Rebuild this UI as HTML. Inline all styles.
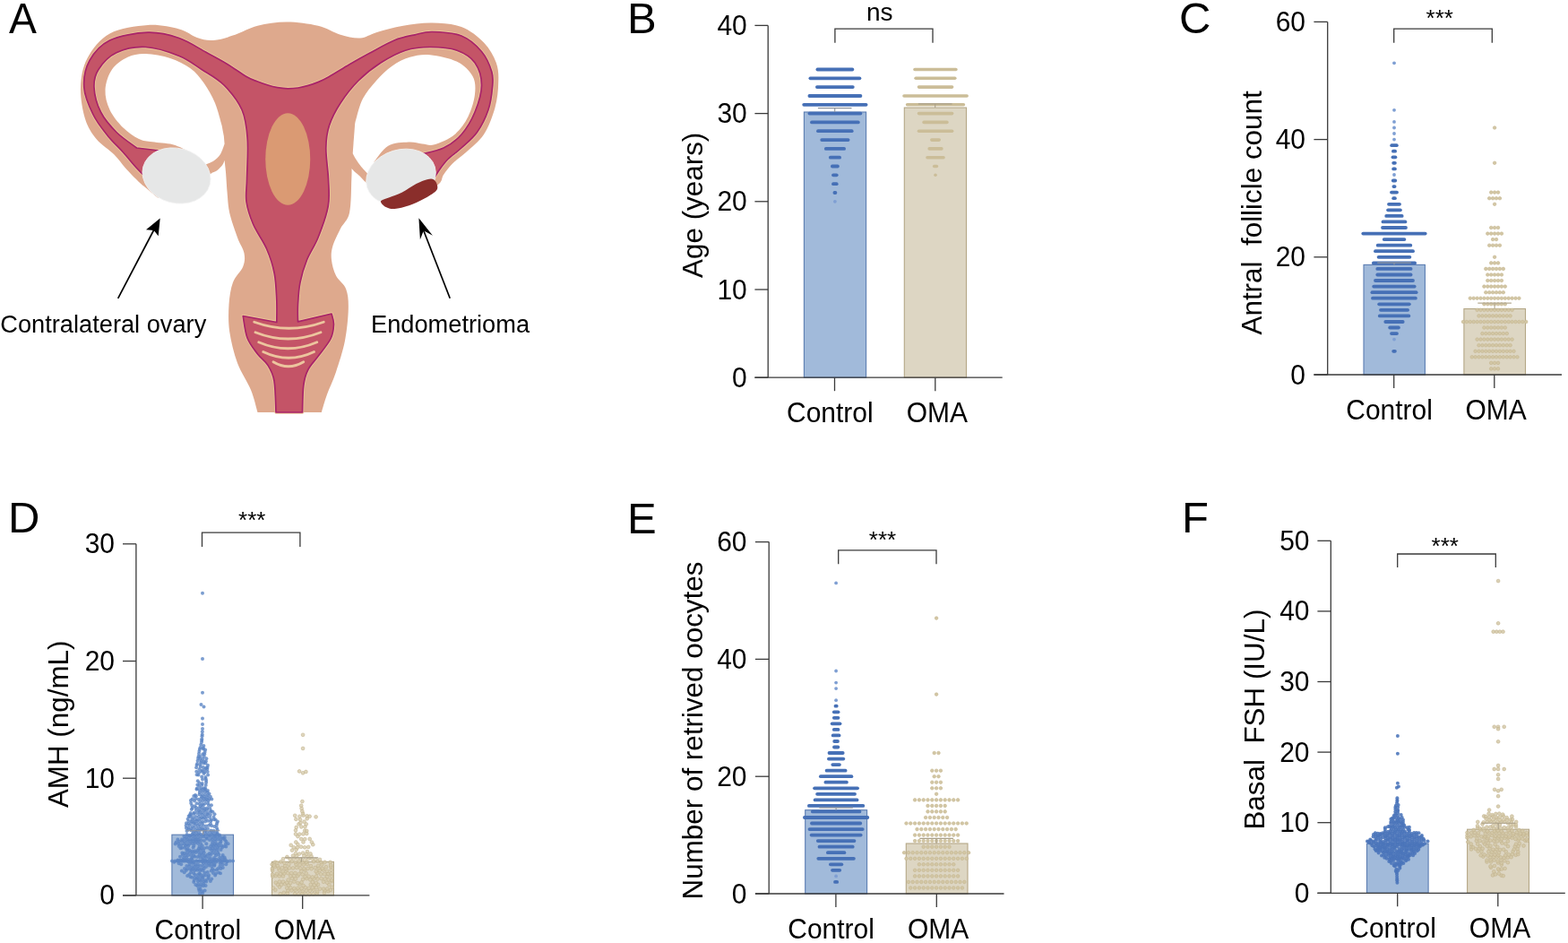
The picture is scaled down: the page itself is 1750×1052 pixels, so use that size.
<!DOCTYPE html>
<html><head><meta charset="utf-8"><title>Figure</title>
<style>html,body{margin:0;padding:0;background:#fff;}svg{display:block;}text{font-family:'Liberation Sans', Arial, sans-serif;fill:#000;}</style>
</head><body>
<svg width="1750" height="1052" viewBox="0 0 1750 1052">
<rect width="1750" height="1052" fill="#fff"/>
<path d="M176.0 220.5 C173.5 218.4 164.7 211.1 161.2 208.2 C157.7 205.3 158.5 206.4 155.0 203.0 C151.5 199.6 144.6 192.6 140.0 187.5 C135.4 182.4 132.9 177.9 127.5 172.5 C122.1 167.1 112.9 161.7 107.5 155.0 C102.1 148.3 97.9 142.1 95.0 132.5 C92.1 122.9 89.6 108.8 90.0 97.5 C90.4 86.2 92.1 75.0 97.5 65.0 C102.9 55.0 111.2 43.7 122.5 37.5 C133.8 31.3 152.1 28.8 165.0 28.0 C177.9 27.2 190.8 30.2 200.0 32.5 C209.2 34.8 213.7 39.9 220.0 42.0 C226.3 44.1 230.9 45.5 238.0 45.0 C245.1 44.5 254.2 41.5 262.5 38.8 C270.8 36.0 277.9 31.1 287.5 28.8 C297.1 26.4 308.8 24.5 320.0 24.5 C331.2 24.5 345.0 26.4 355.0 28.8 C365.0 31.1 372.2 36.5 380.0 38.8 C387.8 41.0 395.3 42.9 402.0 42.5 C408.7 42.1 412.0 38.5 420.0 36.2 C428.0 34.0 439.6 30.5 450.0 28.8 C460.4 27.0 471.7 25.3 482.5 25.5 C493.3 25.7 505.4 26.3 515.0 30.0 C524.6 33.7 533.5 40.8 540.0 47.5 C546.5 54.2 551.0 62.5 553.8 70.0 C556.5 77.5 556.5 84.2 556.2 92.5 C556.0 100.8 555.2 110.4 552.5 120.0 C549.8 129.6 545.4 141.7 540.0 150.0 C534.6 158.3 525.8 164.6 520.0 170.0 C514.2 175.4 509.2 178.3 505.0 182.5 C500.8 186.7 497.5 191.2 495.0 195.0 C492.5 198.8 494.2 201.2 490.0 205.0 C485.8 208.8 478.3 214.2 470.0 218.0 C461.7 221.8 448.3 228.7 440.0 228.0 C431.7 227.3 425.4 218.2 420.0 214.0 C414.6 209.8 410.9 206.0 407.8 203.1 C404.7 200.2 403.3 198.2 401.3 196.3 C399.3 194.4 397.5 193.1 396.0 191.7 C394.5 190.3 393.1 188.5 392.5 187.9 L392.5 187.9 C392.5 189.9 392.7 191.7 392.3 200.0 C391.9 208.3 392.1 228.3 390.0 237.5 C387.9 246.7 383.1 248.8 380.0 255.0 C376.9 261.2 372.9 269.2 371.2 275.0 C369.6 280.8 369.4 284.6 370.0 290.0 C370.6 295.4 372.3 302.1 375.0 307.5 C377.7 312.9 384.0 316.2 386.2 322.5 C388.5 328.8 389.0 335.4 388.8 345.0 C388.5 354.6 387.3 368.3 385.0 380.0 C382.7 391.7 378.3 405.0 375.0 415.0 C371.7 425.0 367.7 432.5 365.0 440.0 C362.3 447.5 359.8 456.7 358.8 460.0 L287.5 460.0 C286.2 455.8 283.8 444.2 280.0 435.0 C276.2 425.8 269.0 415.8 265.0 405.0 C261.0 394.2 257.8 380.8 256.2 370.0 C254.7 359.2 254.9 349.2 255.5 340.0 C256.1 330.8 257.4 322.1 260.0 315.0 C262.6 307.9 269.2 302.9 271.2 297.5 C273.3 292.1 273.5 287.9 272.5 282.5 C271.5 277.1 267.7 272.5 265.0 265.0 C262.3 257.5 258.1 245.7 256.2 237.5 C254.4 229.3 254.4 223.4 253.7 216.0 C253.0 208.6 252.6 199.4 252.1 193.2 C251.6 187.0 250.8 181.2 250.6 178.8 L250.6 178.8 C250.2 179.7 249.7 182.2 248.3 184.1 C246.9 186.0 244.6 188.4 242.2 190.2 C239.8 192.0 238.4 191.2 233.9 194.8 C229.4 198.4 221.5 208.0 215.0 212.0 C208.5 216.0 201.5 217.6 195.0 219.0 C188.5 220.4 179.2 220.2 176.0 220.5 Z" fill="#dea98d"/>
<path d="M247.6 140.0 C246.3 135.8 243.3 122.9 240.0 115.0 C236.7 107.1 232.1 99.0 227.5 92.5 C222.9 86.0 218.8 80.8 212.5 76.2 C206.2 71.7 198.3 67.7 190.0 65.0 C181.7 62.3 170.4 60.2 162.5 60.0 C154.6 59.8 148.8 60.8 142.5 63.8 C136.2 66.7 129.2 71.5 125.0 77.5 C120.8 83.5 117.9 92.5 117.5 100.0 C117.1 107.5 119.2 115.4 122.5 122.5 C125.8 129.6 132.1 137.1 137.5 142.5 C142.9 147.9 149.6 152.4 155.0 155.0 C160.4 157.6 163.7 157.2 170.0 158.3 C176.3 159.4 185.7 159.4 192.8 161.3 C199.9 163.2 209.3 168.3 212.6 169.7 L222.0 185.0 L229.3 183.7 C230.8 183.0 235.6 181.4 238.4 179.5 C241.2 177.6 244.0 175.2 246.0 172.0 C248.0 168.8 249.8 162.4 250.6 160.5 L249.8 151.4 C249.4 149.5 248.0 141.9 247.6 140.0 Z" fill="#fff"/>
<path d="M396.0 140.0 C396.2 138.8 396.0 137.5 397.5 132.5 C399.0 127.5 401.2 117.1 405.0 110.0 C408.8 102.9 414.6 96.0 420.0 90.0 C425.4 84.0 431.2 78.1 437.5 73.8 C443.8 69.4 450.4 65.8 457.5 63.8 C464.6 61.7 471.2 60.4 480.0 61.2 C488.8 62.1 502.1 64.8 510.0 68.8 C517.9 72.7 524.2 79.0 527.5 85.0 C530.8 91.0 530.8 97.5 530.0 105.0 C529.2 112.5 526.2 122.5 522.5 130.0 C518.8 137.5 513.8 144.8 507.5 150.0 C501.2 155.2 491.0 159.5 485.0 161.2 C479.0 163.0 476.1 160.9 471.3 160.5 C466.5 160.1 462.4 158.2 456.0 158.6 C449.6 159.0 439.6 159.1 433.2 162.8 C426.8 166.5 419.9 178.0 417.3 181.0 L428.0 192.0 L409.7 193.2 C408.6 191.9 404.8 188.1 402.8 185.6 C400.8 183.1 399.0 180.4 397.5 178.0 C396.0 175.6 394.3 172.3 393.7 171.2 L394.5 160.0 C394.8 156.7 395.8 143.3 396.0 140.0 Z" fill="#fff"/>
<path d="M165.0 200.0 C162.9 197.9 157.1 192.5 152.5 187.5 C147.9 182.5 142.9 176.0 137.5 170.0 C132.1 164.0 125.6 158.3 120.0 151.2 C114.4 144.2 108.1 136.5 103.8 127.5 C99.4 118.5 94.4 107.5 93.8 97.5 C93.1 87.5 95.2 76.2 100.0 67.5 C104.8 58.8 111.7 50.2 122.5 45.0 C133.3 39.8 152.1 36.7 165.0 36.2 C177.9 35.8 189.2 38.8 200.0 42.5 C210.8 46.2 221.2 53.6 230.0 58.3 C238.8 63.0 245.2 66.3 252.8 70.9 C260.4 75.5 269.9 82.4 275.6 85.7 C281.3 89.0 283.2 89.3 287.0 90.8 C290.8 92.3 294.6 93.6 298.4 94.8 C302.2 96.0 306.0 97.0 309.8 97.7 C313.6 98.4 317.5 98.8 321.3 98.8 C325.1 98.8 328.9 98.6 332.7 98.0 C336.5 97.4 340.2 96.5 344.0 95.4 C347.8 94.3 351.7 93.0 355.5 91.4 C359.3 89.8 361.2 88.9 366.9 85.7 C372.6 82.5 382.2 76.4 389.7 72.0 C397.2 67.6 403.6 64.0 412.0 59.5 C420.4 55.0 431.5 48.5 440.0 45.0 C448.5 41.5 455.9 40.3 463.0 38.8 C470.1 37.2 473.8 35.3 482.5 35.5 C491.2 35.7 505.8 36.3 515.0 40.0 C524.2 43.7 531.9 50.8 537.5 57.5 C543.1 64.2 546.8 73.3 548.8 80.0 C550.8 86.7 550.1 90.4 549.5 97.5 C548.9 104.6 547.8 114.2 545.0 122.5 C542.2 130.8 537.5 140.4 532.5 147.5 C527.5 154.6 520.4 160.0 515.0 165.0 C509.6 170.0 504.2 173.3 500.0 177.5 C495.8 181.7 492.7 186.2 490.0 190.0 C487.3 193.8 485.0 198.3 484.0 200.0 L470.0 172.0 C474.2 170.8 487.5 168.7 495.0 165.0 C502.5 161.3 509.2 156.7 515.0 150.0 C520.8 143.3 526.2 134.2 530.0 125.0 C533.8 115.8 537.5 104.2 537.5 95.0 C537.5 85.8 534.6 76.5 530.0 70.0 C525.4 63.5 518.3 59.2 510.0 56.2 C501.7 53.3 489.6 52.5 480.0 52.5 C470.4 52.5 461.7 53.3 452.5 56.2 C443.3 59.2 433.8 64.4 425.0 70.0 C416.2 75.6 407.5 82.5 400.0 90.0 C392.5 97.5 385.4 106.7 380.0 115.0 C374.6 123.3 370.2 131.7 367.5 140.0 C364.8 148.3 363.9 155.0 363.8 165.0 C363.6 175.0 366.1 189.2 366.5 200.0 C366.9 210.8 368.2 219.2 366.2 230.0 C364.3 240.8 359.0 255.0 355.0 265.0 C351.0 275.0 345.8 281.7 342.5 290.0 C339.2 298.3 336.7 306.7 335.0 315.0 C333.3 323.3 332.9 332.7 332.5 340.0 C332.1 347.3 332.5 355.6 332.5 358.8 L370.0 350.0 C370.4 352.0 372.7 357.3 372.5 362.0 C372.3 366.7 371.9 372.1 369.0 378.0 C366.1 383.9 359.2 391.8 355.0 397.5 C350.8 403.2 346.5 407.1 343.8 412.5 C341.0 417.9 339.8 422.1 338.8 430.0 C337.7 437.9 337.7 455.0 337.5 460.0 L308.0 460.0 C307.7 454.2 307.5 433.8 306.0 425.0 C304.5 416.2 302.1 412.5 299.0 407.5 C295.9 402.5 291.3 400.1 287.5 395.0 C283.7 389.9 278.7 384.1 276.0 377.0 C273.3 369.9 272.0 356.6 271.2 352.5 L308.8 359.5 C308.8 355.4 309.2 344.1 308.8 335.0 C308.3 325.9 308.1 314.6 306.2 305.0 C304.4 295.4 301.5 286.7 297.5 277.5 C293.5 268.3 286.2 258.8 282.5 250.0 C278.8 241.2 276.2 233.3 275.0 225.0 C273.8 216.7 275.3 211.7 275.5 200.0 C275.7 188.3 277.2 167.9 276.2 155.0 C275.3 142.1 274.4 132.5 270.0 122.5 C265.6 112.5 257.5 102.5 250.0 95.0 C242.5 87.5 233.3 82.9 225.0 77.5 C216.7 72.1 210.4 66.7 200.0 62.5 C189.6 58.3 174.2 53.1 162.5 52.5 C150.8 51.9 138.8 54.6 130.0 58.8 C121.2 62.9 114.2 71.0 110.0 77.5 C105.8 84.0 104.6 89.6 105.0 97.5 C105.4 105.4 108.3 116.7 112.5 125.0 C116.7 133.3 123.3 140.8 130.0 147.5 C136.7 154.2 148.8 162.1 152.5 165.0 L178.0 168.0 Z" fill="none" stroke="#ebc596" stroke-width="3.4" stroke-linejoin="round"/>
<path d="M165.0 200.0 C162.9 197.9 157.1 192.5 152.5 187.5 C147.9 182.5 142.9 176.0 137.5 170.0 C132.1 164.0 125.6 158.3 120.0 151.2 C114.4 144.2 108.1 136.5 103.8 127.5 C99.4 118.5 94.4 107.5 93.8 97.5 C93.1 87.5 95.2 76.2 100.0 67.5 C104.8 58.8 111.7 50.2 122.5 45.0 C133.3 39.8 152.1 36.7 165.0 36.2 C177.9 35.8 189.2 38.8 200.0 42.5 C210.8 46.2 221.2 53.6 230.0 58.3 C238.8 63.0 245.2 66.3 252.8 70.9 C260.4 75.5 269.9 82.4 275.6 85.7 C281.3 89.0 283.2 89.3 287.0 90.8 C290.8 92.3 294.6 93.6 298.4 94.8 C302.2 96.0 306.0 97.0 309.8 97.7 C313.6 98.4 317.5 98.8 321.3 98.8 C325.1 98.8 328.9 98.6 332.7 98.0 C336.5 97.4 340.2 96.5 344.0 95.4 C347.8 94.3 351.7 93.0 355.5 91.4 C359.3 89.8 361.2 88.9 366.9 85.7 C372.6 82.5 382.2 76.4 389.7 72.0 C397.2 67.6 403.6 64.0 412.0 59.5 C420.4 55.0 431.5 48.5 440.0 45.0 C448.5 41.5 455.9 40.3 463.0 38.8 C470.1 37.2 473.8 35.3 482.5 35.5 C491.2 35.7 505.8 36.3 515.0 40.0 C524.2 43.7 531.9 50.8 537.5 57.5 C543.1 64.2 546.8 73.3 548.8 80.0 C550.8 86.7 550.1 90.4 549.5 97.5 C548.9 104.6 547.8 114.2 545.0 122.5 C542.2 130.8 537.5 140.4 532.5 147.5 C527.5 154.6 520.4 160.0 515.0 165.0 C509.6 170.0 504.2 173.3 500.0 177.5 C495.8 181.7 492.7 186.2 490.0 190.0 C487.3 193.8 485.0 198.3 484.0 200.0 L470.0 172.0 C474.2 170.8 487.5 168.7 495.0 165.0 C502.5 161.3 509.2 156.7 515.0 150.0 C520.8 143.3 526.2 134.2 530.0 125.0 C533.8 115.8 537.5 104.2 537.5 95.0 C537.5 85.8 534.6 76.5 530.0 70.0 C525.4 63.5 518.3 59.2 510.0 56.2 C501.7 53.3 489.6 52.5 480.0 52.5 C470.4 52.5 461.7 53.3 452.5 56.2 C443.3 59.2 433.8 64.4 425.0 70.0 C416.2 75.6 407.5 82.5 400.0 90.0 C392.5 97.5 385.4 106.7 380.0 115.0 C374.6 123.3 370.2 131.7 367.5 140.0 C364.8 148.3 363.9 155.0 363.8 165.0 C363.6 175.0 366.1 189.2 366.5 200.0 C366.9 210.8 368.2 219.2 366.2 230.0 C364.3 240.8 359.0 255.0 355.0 265.0 C351.0 275.0 345.8 281.7 342.5 290.0 C339.2 298.3 336.7 306.7 335.0 315.0 C333.3 323.3 332.9 332.7 332.5 340.0 C332.1 347.3 332.5 355.6 332.5 358.8 L370.0 350.0 C370.4 352.0 372.7 357.3 372.5 362.0 C372.3 366.7 371.9 372.1 369.0 378.0 C366.1 383.9 359.2 391.8 355.0 397.5 C350.8 403.2 346.5 407.1 343.8 412.5 C341.0 417.9 339.8 422.1 338.8 430.0 C337.7 437.9 337.7 455.0 337.5 460.0 L308.0 460.0 C307.7 454.2 307.5 433.8 306.0 425.0 C304.5 416.2 302.1 412.5 299.0 407.5 C295.9 402.5 291.3 400.1 287.5 395.0 C283.7 389.9 278.7 384.1 276.0 377.0 C273.3 369.9 272.0 356.6 271.2 352.5 L308.8 359.5 C308.8 355.4 309.2 344.1 308.8 335.0 C308.3 325.9 308.1 314.6 306.2 305.0 C304.4 295.4 301.5 286.7 297.5 277.5 C293.5 268.3 286.2 258.8 282.5 250.0 C278.8 241.2 276.2 233.3 275.0 225.0 C273.8 216.7 275.3 211.7 275.5 200.0 C275.7 188.3 277.2 167.9 276.2 155.0 C275.3 142.1 274.4 132.5 270.0 122.5 C265.6 112.5 257.5 102.5 250.0 95.0 C242.5 87.5 233.3 82.9 225.0 77.5 C216.7 72.1 210.4 66.7 200.0 62.5 C189.6 58.3 174.2 53.1 162.5 52.5 C150.8 51.9 138.8 54.6 130.0 58.8 C121.2 62.9 114.2 71.0 110.0 77.5 C105.8 84.0 104.6 89.6 105.0 97.5 C105.4 105.4 108.3 116.7 112.5 125.0 C116.7 133.3 123.3 140.8 130.0 147.5 C136.7 154.2 148.8 162.1 152.5 165.0 L178.0 168.0 Z" fill="#c45467" stroke="#a8236a" stroke-width="1.7" stroke-linejoin="round"/>
<ellipse cx="321.25" cy="177.5" rx="25" ry="51.2" fill="#da9a73"/>
<path d="M283.75 359.25Q322.5 373.25 361.25 359.25" stroke="#ecc59e" stroke-width="2.9" fill="none" stroke-linecap="round"/>
<path d="M285 370.75Q321.5 385.25 358 370.75" stroke="#ecc59e" stroke-width="2.9" fill="none" stroke-linecap="round"/>
<path d="M288.75 381.75Q321.25 395.75 353.75 381.75" stroke="#ecc59e" stroke-width="2.9" fill="none" stroke-linecap="round"/>
<path d="M293.75 392.5Q322.125 406.0 350.5 392.5" stroke="#ecc59e" stroke-width="2.9" fill="none" stroke-linecap="round"/>
<path d="M305 403.75Q321.875 413.75 338.75 403.75" stroke="#ecc59e" stroke-width="2.9" fill="none" stroke-linecap="round"/>
<ellipse cx="197" cy="196" rx="38.5" ry="30.5" transform="rotate(15 197 196)" fill="#e6e7e7" stroke="#f2f2f2" stroke-width="0.8"/>
<ellipse cx="447.5" cy="197.5" rx="39.5" ry="30.5" transform="rotate(-17 447.5 197.5)" fill="#e6e7e7" stroke="#f2f2f2" stroke-width="0.8"/>
<path d="M425.0 224.5 C425.5 222.7 430.0 222.0 433.9 220.4 C437.8 218.8 443.4 217.4 448.5 214.8 C453.6 212.2 459.9 207.4 464.6 205.0 C469.3 202.6 473.5 201.0 476.7 200.2 C479.9 199.4 482.1 199.1 484.0 200.2 C485.9 201.3 487.6 204.5 488.0 206.7 C488.4 208.9 488.9 210.6 486.4 213.2 C483.8 215.8 477.7 219.3 472.7 222.0 C467.7 224.7 461.9 227.5 456.5 229.3 C451.1 231.1 444.7 232.7 440.4 233.0 C436.1 233.3 433.3 232.4 430.7 231.0 C428.1 229.6 424.5 226.3 425.0 224.5 Z" fill="#8a2e2b"/>
<path d="M131.7 332.8L172.5 255" stroke="#000" stroke-width="1.7"/>
<path d="M178.7 243.6L163 256.3L171.7 256.9L176.7 263.3Z" fill="#000"/>
<path d="M502.2 332.7L471.5 254" stroke="#000" stroke-width="1.7"/>
<path d="M467.4 243.2L468.9 267.2L472.8 257.2L482.9 262.8Z" fill="#000"/>
<text transform="translate(0.3 370.8) scale(0.99 1)" font-size="27.5">Contralateral ovary</text><text transform="translate(414 370.8) scale(0.99 1)" font-size="27.5">Endometrioma</text><text transform="translate(10 36.6) scale(0.975 1)" font-size="47.5">A</text>
<rect x="897.4" y="125.0" width="69.2" height="296.2" fill="#a1bada" stroke="#5b7db2" stroke-width="1.1"/>
<rect x="1009.3" y="120.1" width="69.2" height="301.1" fill="#ddd6c3" stroke="#b4a786" stroke-width="1.1"/>
<path d="M912.4 77.5h38.9" stroke="#4670b6" stroke-width="3.8" stroke-linecap="round"/><path d="M904.4 87.3h55.0" stroke="#4670b6" stroke-width="3.8" stroke-linecap="round"/><path d="M911.9 97.1h39.9" stroke="#4670b6" stroke-width="3.8" stroke-linecap="round"/><path d="M903.4 107.0h57.0" stroke="#4670b6" stroke-width="3.8" stroke-linecap="round"/><path d="M897.2 116.8h69.4" stroke="#4670b6" stroke-width="3.8" stroke-linecap="round"/><path d="M903.4 126.6h57.0" stroke="#4670b6" stroke-width="3.8" stroke-linecap="round"/><path d="M906.0 136.4h51.8" stroke="#4670b6" stroke-width="3.8" stroke-linecap="round"/><path d="M913.0 146.2h37.7" stroke="#4670b6" stroke-width="3.8" stroke-linecap="round"/><path d="M917.2 156.1h29.4" stroke="#4670b6" stroke-width="3.8" stroke-linecap="round"/><path d="M921.8 165.9h20.3" stroke="#4670b6" stroke-width="3.8" stroke-linecap="round"/><path d="M926.8 175.7h10.3" stroke="#4670b6" stroke-width="3.8" stroke-linecap="round"/><path d="M928.9 185.5h6.0" stroke="#4670b6" stroke-width="3.8" stroke-linecap="round"/><path d="M930.0 195.3h3.7" stroke="#4670b6" stroke-width="3.8" stroke-linecap="round"/><path d="M930.0 205.2h3.7" stroke="#4670b6" stroke-width="3.8" stroke-linecap="round"/><path d="M931.4 215.0h1.0" stroke="#4670b6" stroke-width="3.8" stroke-linecap="round"/><circle cx="931.9" cy="224.8" r="1.90" fill="#7f9fd3"/><path d="M1021.0 77.5h45.9" stroke="#cbbd98" stroke-width="3.6" stroke-linecap="round"/><path d="M1022.1 87.3h43.7" stroke="#cbbd98" stroke-width="3.6" stroke-linecap="round"/><path d="M1025.5 97.1h37.1" stroke="#cbbd98" stroke-width="3.6" stroke-linecap="round"/><path d="M1009.0 107.0h70.1" stroke="#cbbd98" stroke-width="3.6" stroke-linecap="round"/><path d="M1012.6 116.8h62.8" stroke="#cbbd98" stroke-width="3.6" stroke-linecap="round"/><path d="M1025.5 126.6h37.1" stroke="#cbbd98" stroke-width="3.6" stroke-linecap="round"/><path d="M1031.1 136.4h25.8" stroke="#cbbd98" stroke-width="3.6" stroke-linecap="round"/><path d="M1025.5 146.2h37.1" stroke="#cbbd98" stroke-width="3.6" stroke-linecap="round"/><path d="M1039.8 156.1h8.4" stroke="#cbbd98" stroke-width="3.6" stroke-linecap="round"/><path d="M1037.2 165.9h13.7" stroke="#cbbd98" stroke-width="3.6" stroke-linecap="round"/><path d="M1035.0 175.7h18.0" stroke="#cbbd98" stroke-width="3.6" stroke-linecap="round"/><path d="M1042.7 185.5h2.7" stroke="#cbbd98" stroke-width="3.6" stroke-linecap="round"/><circle cx="1044.0" cy="195.3" r="1.80" fill="#cbbd98"/>
<path d="M912.9 120.6H950.5M931.7 120.6V125.0" stroke="#8f959e" stroke-width="1.1" fill="none"/>
<path d="M1024.9 115.9H1062.5M1043.7 115.9V120.1" stroke="#aaa089" stroke-width="1.1" fill="none"/>
<path d="M857.2 28.4V421.2M842.4 421.2H1118.7" stroke="#3a3a3a" stroke-width="1.3" fill="none"/>
<path d="M842.4 421.2H857.2" stroke="#3a3a3a" stroke-width="1.3"/>
<text transform="translate(833.8 431.7) scale(0.955 1)" font-size="31.4" text-anchor="end" >0</text>
<path d="M842.4 323.0H857.2" stroke="#3a3a3a" stroke-width="1.3"/>
<text transform="translate(833.8 333.5) scale(0.955 1)" font-size="31.4" text-anchor="end" >10</text>
<path d="M842.4 224.8H857.2" stroke="#3a3a3a" stroke-width="1.3"/>
<text transform="translate(833.8 235.3) scale(0.955 1)" font-size="31.4" text-anchor="end" >20</text>
<path d="M842.4 126.6H857.2" stroke="#3a3a3a" stroke-width="1.3"/>
<text transform="translate(833.8 137.1) scale(0.955 1)" font-size="31.4" text-anchor="end" >30</text>
<path d="M842.4 28.4H857.2" stroke="#3a3a3a" stroke-width="1.3"/>
<text transform="translate(833.8 38.9) scale(0.955 1)" font-size="31.4" text-anchor="end" >40</text>
<path d="M931.5 421.2V436.2" stroke="#3a3a3a" stroke-width="1.3"/>
<path d="M1043.8 421.2V436.2" stroke="#3a3a3a" stroke-width="1.3"/>
<path d="M931.9 47.8V32.2H1041.0V47.8" stroke="#3a3a3a" stroke-width="1.3" fill="none"/>
<text x="981.7" y="22.6" font-size="28" text-anchor="middle" >ns</text>
<text transform="translate(926.3 471.0) scale(0.955 1)" font-size="31.4" text-anchor="middle" >Control</text>
<text transform="translate(1045.8 471.0) scale(0.955 1)" font-size="31.4" text-anchor="middle" >OMA</text>
<text x="0" y="0" font-size="31.4" text-anchor="middle" transform="translate(784.0 228.8) rotate(-90)" xml:space="preserve">Age (years)</text>
<text x="700.0" y="36.6" font-size="49" text-anchor="start" >B</text>
<rect x="1522.0" y="295.4" width="68.4" height="122.6" fill="#a1bada" stroke="#5b7db2" stroke-width="1.1"/>
<rect x="1633.9" y="344.5" width="68.6" height="73.5" fill="#ddd6c3" stroke="#b4a786" stroke-width="1.1"/>
<circle cx="1556.0" cy="70.3" r="1.90" fill="#7f9fd3"/><circle cx="1556.0" cy="122.8" r="1.90" fill="#7f9fd3"/><circle cx="1556.0" cy="135.9" r="1.90" fill="#7f9fd3"/><circle cx="1556.0" cy="142.5" r="1.90" fill="#7f9fd3"/><circle cx="1556.0" cy="149.0" r="1.90" fill="#7f9fd3"/><circle cx="1556.0" cy="155.6" r="1.90" fill="#7f9fd3"/><path d="M1553.2 162.2h5.6" stroke="#4670b6" stroke-width="3.8" stroke-linecap="round"/><path d="M1554.9 168.7h2.2" stroke="#4670b6" stroke-width="3.8" stroke-linecap="round"/><path d="M1554.5 175.3h2.9" stroke="#4670b6" stroke-width="3.8" stroke-linecap="round"/><path d="M1555.2 181.8h1.7" stroke="#4670b6" stroke-width="3.8" stroke-linecap="round"/><path d="M1555.2 188.4h1.7" stroke="#4670b6" stroke-width="3.8" stroke-linecap="round"/><circle cx="1556.0" cy="195.0" r="1.90" fill="#7f9fd3"/><path d="M1554.8 201.5h2.4" stroke="#4670b6" stroke-width="3.8" stroke-linecap="round"/><path d="M1555.4 208.1h1.2" stroke="#4670b6" stroke-width="3.8" stroke-linecap="round"/><path d="M1553.0 214.6h6.0" stroke="#4670b6" stroke-width="3.8" stroke-linecap="round"/><path d="M1555.2 221.2h1.7" stroke="#4670b6" stroke-width="3.8" stroke-linecap="round"/><path d="M1550.0 227.8h12.0" stroke="#4670b6" stroke-width="3.8" stroke-linecap="round"/><path d="M1549.1 234.3h13.8" stroke="#4670b6" stroke-width="3.8" stroke-linecap="round"/><path d="M1547.2 240.9h17.5" stroke="#4670b6" stroke-width="3.8" stroke-linecap="round"/><path d="M1543.5 247.4h24.9" stroke="#4670b6" stroke-width="3.8" stroke-linecap="round"/><path d="M1543.0 254.0h26.0" stroke="#4670b6" stroke-width="3.8" stroke-linecap="round"/><path d="M1521.3 260.6h69.4" stroke="#4670b6" stroke-width="3.8" stroke-linecap="round"/><path d="M1544.7 267.1h22.7" stroke="#4670b6" stroke-width="3.8" stroke-linecap="round"/><path d="M1537.7 273.7h36.6" stroke="#4670b6" stroke-width="3.8" stroke-linecap="round"/><path d="M1535.0 280.2h42.0" stroke="#4670b6" stroke-width="3.8" stroke-linecap="round"/><path d="M1538.6 286.8h34.8" stroke="#4670b6" stroke-width="3.8" stroke-linecap="round"/><path d="M1532.9 293.4h46.2" stroke="#4670b6" stroke-width="3.8" stroke-linecap="round"/><path d="M1537.3 299.9h37.3" stroke="#4670b6" stroke-width="3.8" stroke-linecap="round"/><path d="M1537.3 306.5h37.3" stroke="#4670b6" stroke-width="3.8" stroke-linecap="round"/><path d="M1535.0 313.0h42.0" stroke="#4670b6" stroke-width="3.8" stroke-linecap="round"/><path d="M1533.2 319.6h45.5" stroke="#4670b6" stroke-width="3.8" stroke-linecap="round"/><path d="M1531.4 326.2h49.2" stroke="#4670b6" stroke-width="3.8" stroke-linecap="round"/><path d="M1532.0 332.7h47.9" stroke="#4670b6" stroke-width="3.8" stroke-linecap="round"/><path d="M1539.2 339.3h33.6" stroke="#4670b6" stroke-width="3.8" stroke-linecap="round"/><path d="M1541.0 345.8h30.1" stroke="#4670b6" stroke-width="3.8" stroke-linecap="round"/><path d="M1539.8 352.4h32.5" stroke="#4670b6" stroke-width="3.8" stroke-linecap="round"/><path d="M1546.3 359.0h19.4" stroke="#4670b6" stroke-width="3.8" stroke-linecap="round"/><path d="M1551.2 365.5h9.7" stroke="#4670b6" stroke-width="3.8" stroke-linecap="round"/><path d="M1553.0 372.1h6.0" stroke="#4670b6" stroke-width="3.8" stroke-linecap="round"/><circle cx="1556.0" cy="378.6" r="1.90" fill="#7f9fd3"/><path d="M1555.2 391.8h1.7" stroke="#4670b6" stroke-width="3.8" stroke-linecap="round"/><g fill="#d3c7a5" stroke="#c4b58f" stroke-width="0.6"><circle cx="1668.1" cy="142.5" r="1.8"/><circle cx="1668.1" cy="181.8" r="1.8"/><circle cx="1664.2" cy="214.6" r="1.8"/><circle cx="1668.1" cy="214.6" r="1.8"/><circle cx="1672.0" cy="214.6" r="1.8"/><circle cx="1662.2" cy="221.2" r="1.8"/><circle cx="1666.1" cy="221.2" r="1.8"/><circle cx="1670.0" cy="221.2" r="1.8"/><circle cx="1673.9" cy="221.2" r="1.8"/><circle cx="1668.1" cy="227.8" r="1.8"/><circle cx="1664.2" cy="254.0" r="1.8"/><circle cx="1668.1" cy="254.0" r="1.8"/><circle cx="1672.0" cy="254.0" r="1.8"/><circle cx="1660.3" cy="260.6" r="1.8"/><circle cx="1664.2" cy="260.6" r="1.8"/><circle cx="1668.1" cy="260.6" r="1.8"/><circle cx="1672.0" cy="260.6" r="1.8"/><circle cx="1675.9" cy="260.6" r="1.8"/><circle cx="1666.1" cy="267.1" r="1.8"/><circle cx="1670.0" cy="267.1" r="1.8"/><circle cx="1662.2" cy="273.7" r="1.8"/><circle cx="1666.1" cy="273.7" r="1.8"/><circle cx="1670.0" cy="273.7" r="1.8"/><circle cx="1673.9" cy="273.7" r="1.8"/><circle cx="1668.1" cy="286.8" r="1.8"/><circle cx="1664.2" cy="293.4" r="1.8"/><circle cx="1668.1" cy="293.4" r="1.8"/><circle cx="1672.0" cy="293.4" r="1.8"/><circle cx="1658.3" cy="299.9" r="1.8"/><circle cx="1662.2" cy="299.9" r="1.8"/><circle cx="1666.1" cy="299.9" r="1.8"/><circle cx="1670.0" cy="299.9" r="1.8"/><circle cx="1673.9" cy="299.9" r="1.8"/><circle cx="1677.8" cy="299.9" r="1.8"/><circle cx="1660.3" cy="306.5" r="1.8"/><circle cx="1664.2" cy="306.5" r="1.8"/><circle cx="1668.1" cy="306.5" r="1.8"/><circle cx="1672.0" cy="306.5" r="1.8"/><circle cx="1675.9" cy="306.5" r="1.8"/><circle cx="1660.3" cy="313.0" r="1.8"/><circle cx="1664.2" cy="313.0" r="1.8"/><circle cx="1668.1" cy="313.0" r="1.8"/><circle cx="1672.0" cy="313.0" r="1.8"/><circle cx="1675.9" cy="313.0" r="1.8"/><circle cx="1656.4" cy="319.6" r="1.8"/><circle cx="1660.3" cy="319.6" r="1.8"/><circle cx="1664.2" cy="319.6" r="1.8"/><circle cx="1668.1" cy="319.6" r="1.8"/><circle cx="1672.0" cy="319.6" r="1.8"/><circle cx="1675.9" cy="319.6" r="1.8"/><circle cx="1679.8" cy="319.6" r="1.8"/><circle cx="1658.3" cy="326.2" r="1.8"/><circle cx="1662.2" cy="326.2" r="1.8"/><circle cx="1666.1" cy="326.2" r="1.8"/><circle cx="1670.0" cy="326.2" r="1.8"/><circle cx="1673.9" cy="326.2" r="1.8"/><circle cx="1677.8" cy="326.2" r="1.8"/><circle cx="1640.8" cy="332.7" r="1.8"/><circle cx="1644.7" cy="332.7" r="1.8"/><circle cx="1648.6" cy="332.7" r="1.8"/><circle cx="1652.5" cy="332.7" r="1.8"/><circle cx="1656.4" cy="332.7" r="1.8"/><circle cx="1660.3" cy="332.7" r="1.8"/><circle cx="1664.2" cy="332.7" r="1.8"/><circle cx="1668.1" cy="332.7" r="1.8"/><circle cx="1672.0" cy="332.7" r="1.8"/><circle cx="1675.9" cy="332.7" r="1.8"/><circle cx="1679.8" cy="332.7" r="1.8"/><circle cx="1683.7" cy="332.7" r="1.8"/><circle cx="1687.6" cy="332.7" r="1.8"/><circle cx="1691.5" cy="332.7" r="1.8"/><circle cx="1695.4" cy="332.7" r="1.8"/><circle cx="1656.4" cy="339.3" r="1.8"/><circle cx="1660.3" cy="339.3" r="1.8"/><circle cx="1664.2" cy="339.3" r="1.8"/><circle cx="1668.1" cy="339.3" r="1.8"/><circle cx="1672.0" cy="339.3" r="1.8"/><circle cx="1675.9" cy="339.3" r="1.8"/><circle cx="1679.8" cy="339.3" r="1.8"/><circle cx="1648.6" cy="345.8" r="1.8"/><circle cx="1652.5" cy="345.8" r="1.8"/><circle cx="1656.4" cy="345.8" r="1.8"/><circle cx="1660.3" cy="345.8" r="1.8"/><circle cx="1664.2" cy="345.8" r="1.8"/><circle cx="1668.1" cy="345.8" r="1.8"/><circle cx="1672.0" cy="345.8" r="1.8"/><circle cx="1675.9" cy="345.8" r="1.8"/><circle cx="1679.8" cy="345.8" r="1.8"/><circle cx="1683.7" cy="345.8" r="1.8"/><circle cx="1687.6" cy="345.8" r="1.8"/><circle cx="1650.5" cy="352.4" r="1.8"/><circle cx="1654.4" cy="352.4" r="1.8"/><circle cx="1658.3" cy="352.4" r="1.8"/><circle cx="1662.2" cy="352.4" r="1.8"/><circle cx="1666.1" cy="352.4" r="1.8"/><circle cx="1670.0" cy="352.4" r="1.8"/><circle cx="1673.9" cy="352.4" r="1.8"/><circle cx="1677.8" cy="352.4" r="1.8"/><circle cx="1681.8" cy="352.4" r="1.8"/><circle cx="1685.6" cy="352.4" r="1.8"/><circle cx="1633.0" cy="359.0" r="1.8"/><circle cx="1636.9" cy="359.0" r="1.8"/><circle cx="1640.8" cy="359.0" r="1.8"/><circle cx="1644.7" cy="359.0" r="1.8"/><circle cx="1648.6" cy="359.0" r="1.8"/><circle cx="1652.5" cy="359.0" r="1.8"/><circle cx="1656.4" cy="359.0" r="1.8"/><circle cx="1660.3" cy="359.0" r="1.8"/><circle cx="1664.2" cy="359.0" r="1.8"/><circle cx="1668.1" cy="359.0" r="1.8"/><circle cx="1672.0" cy="359.0" r="1.8"/><circle cx="1675.9" cy="359.0" r="1.8"/><circle cx="1679.8" cy="359.0" r="1.8"/><circle cx="1683.7" cy="359.0" r="1.8"/><circle cx="1687.6" cy="359.0" r="1.8"/><circle cx="1691.5" cy="359.0" r="1.8"/><circle cx="1695.4" cy="359.0" r="1.8"/><circle cx="1699.3" cy="359.0" r="1.8"/><circle cx="1703.2" cy="359.0" r="1.8"/><circle cx="1656.4" cy="365.5" r="1.8"/><circle cx="1660.3" cy="365.5" r="1.8"/><circle cx="1664.2" cy="365.5" r="1.8"/><circle cx="1668.1" cy="365.5" r="1.8"/><circle cx="1672.0" cy="365.5" r="1.8"/><circle cx="1675.9" cy="365.5" r="1.8"/><circle cx="1679.8" cy="365.5" r="1.8"/><circle cx="1654.4" cy="372.1" r="1.8"/><circle cx="1658.3" cy="372.1" r="1.8"/><circle cx="1662.2" cy="372.1" r="1.8"/><circle cx="1666.1" cy="372.1" r="1.8"/><circle cx="1670.0" cy="372.1" r="1.8"/><circle cx="1673.9" cy="372.1" r="1.8"/><circle cx="1677.8" cy="372.1" r="1.8"/><circle cx="1681.8" cy="372.1" r="1.8"/><circle cx="1648.6" cy="378.6" r="1.8"/><circle cx="1652.5" cy="378.6" r="1.8"/><circle cx="1656.4" cy="378.6" r="1.8"/><circle cx="1660.3" cy="378.6" r="1.8"/><circle cx="1664.2" cy="378.6" r="1.8"/><circle cx="1668.1" cy="378.6" r="1.8"/><circle cx="1672.0" cy="378.6" r="1.8"/><circle cx="1675.9" cy="378.6" r="1.8"/><circle cx="1679.8" cy="378.6" r="1.8"/><circle cx="1683.7" cy="378.6" r="1.8"/><circle cx="1687.6" cy="378.6" r="1.8"/><circle cx="1650.5" cy="385.2" r="1.8"/><circle cx="1654.4" cy="385.2" r="1.8"/><circle cx="1658.3" cy="385.2" r="1.8"/><circle cx="1662.2" cy="385.2" r="1.8"/><circle cx="1666.1" cy="385.2" r="1.8"/><circle cx="1670.0" cy="385.2" r="1.8"/><circle cx="1673.9" cy="385.2" r="1.8"/><circle cx="1677.8" cy="385.2" r="1.8"/><circle cx="1681.8" cy="385.2" r="1.8"/><circle cx="1685.6" cy="385.2" r="1.8"/><circle cx="1646.6" cy="391.8" r="1.8"/><circle cx="1650.5" cy="391.8" r="1.8"/><circle cx="1654.4" cy="391.8" r="1.8"/><circle cx="1658.3" cy="391.8" r="1.8"/><circle cx="1662.2" cy="391.8" r="1.8"/><circle cx="1666.1" cy="391.8" r="1.8"/><circle cx="1670.0" cy="391.8" r="1.8"/><circle cx="1673.9" cy="391.8" r="1.8"/><circle cx="1677.8" cy="391.8" r="1.8"/><circle cx="1681.8" cy="391.8" r="1.8"/><circle cx="1685.6" cy="391.8" r="1.8"/><circle cx="1689.5" cy="391.8" r="1.8"/><circle cx="1642.8" cy="398.3" r="1.8"/><circle cx="1646.6" cy="398.3" r="1.8"/><circle cx="1650.5" cy="398.3" r="1.8"/><circle cx="1654.4" cy="398.3" r="1.8"/><circle cx="1658.3" cy="398.3" r="1.8"/><circle cx="1662.2" cy="398.3" r="1.8"/><circle cx="1666.1" cy="398.3" r="1.8"/><circle cx="1670.0" cy="398.3" r="1.8"/><circle cx="1673.9" cy="398.3" r="1.8"/><circle cx="1677.8" cy="398.3" r="1.8"/><circle cx="1681.8" cy="398.3" r="1.8"/><circle cx="1685.6" cy="398.3" r="1.8"/><circle cx="1689.5" cy="398.3" r="1.8"/><circle cx="1693.4" cy="398.3" r="1.8"/><circle cx="1664.2" cy="404.9" r="1.8"/><circle cx="1668.1" cy="404.9" r="1.8"/><circle cx="1672.0" cy="404.9" r="1.8"/><circle cx="1664.2" cy="411.4" r="1.8"/><circle cx="1668.1" cy="411.4" r="1.8"/><circle cx="1672.0" cy="411.4" r="1.8"/></g>
<path d="M1537.2 293.1H1574.8M1556.0 293.1V295.4" stroke="#8f959e" stroke-width="1.1" fill="none"/>
<path d="M1649.3 338.1H1686.9M1668.1 338.1V344.5" stroke="#b5ab93" stroke-width="1.1" fill="none"/>
<path d="M1481.7 24.4V418.0M1466.4 418.0H1743.0" stroke="#3a3a3a" stroke-width="1.3" fill="none"/>
<path d="M1466.4 418.0H1481.7" stroke="#3a3a3a" stroke-width="1.3"/>
<text transform="translate(1457.0 428.5) scale(0.955 1)" font-size="31.4" text-anchor="end" >0</text>
<path d="M1466.4 286.8H1481.7" stroke="#3a3a3a" stroke-width="1.3"/>
<text transform="translate(1457.0 297.3) scale(0.955 1)" font-size="31.4" text-anchor="end" >20</text>
<path d="M1466.4 155.6H1481.7" stroke="#3a3a3a" stroke-width="1.3"/>
<text transform="translate(1457.0 166.1) scale(0.955 1)" font-size="31.4" text-anchor="end" >40</text>
<path d="M1466.4 24.4H1481.7" stroke="#3a3a3a" stroke-width="1.3"/>
<text transform="translate(1457.0 34.9) scale(0.955 1)" font-size="31.4" text-anchor="end" >60</text>
<path d="M1555.7 418.0V433.0" stroke="#3a3a3a" stroke-width="1.3"/>
<path d="M1667.8 418.0V433.0" stroke="#3a3a3a" stroke-width="1.3"/>
<path d="M1555.7 47.8V32.2H1665.3V47.8" stroke="#3a3a3a" stroke-width="1.3" fill="none"/>
<text x="1606.7" y="29.4" font-size="26" text-anchor="middle" >***</text>
<text transform="translate(1550.6 467.7) scale(0.955 1)" font-size="31.4" text-anchor="middle" >Control</text>
<text transform="translate(1669.6 467.7) scale(0.955 1)" font-size="31.4" text-anchor="middle" >OMA</text>
<text x="0" y="0" font-size="31.4" text-anchor="middle" transform="translate(1408.0 237.4) rotate(-90)" xml:space="preserve">Antral  follicle count</text>
<text x="1316.0" y="36.6" font-size="49" text-anchor="start" >C</text>
<rect x="191.9" y="931.2" width="68.6" height="67.7" fill="#a1bada" stroke="#5b7db2" stroke-width="1.1"/>
<rect x="303.5" y="961.4" width="68.9" height="37.5" fill="#ddd6c3" stroke="#b4a786" stroke-width="1.1"/>
<g fill="#5a84c4" fill-opacity="0.8"><circle cx="223.0" cy="997.0" r="2.0"/><circle cx="226.1" cy="996.3" r="2.0"/><circle cx="222.4" cy="993.8" r="2.0"/><circle cx="225.7" cy="994.3" r="2.0"/><circle cx="228.6" cy="993.4" r="2.0"/><circle cx="221.8" cy="991.6" r="2.0"/><circle cx="223.6" cy="992.1" r="2.0"/><circle cx="220.3" cy="988.2" r="2.0"/><circle cx="223.9" cy="988.8" r="2.0"/><circle cx="227.0" cy="988.2" r="2.0"/><circle cx="229.6" cy="988.0" r="2.0"/><circle cx="218.3" cy="986.9" r="2.0"/><circle cx="221.2" cy="986.5" r="2.0"/><circle cx="224.3" cy="986.6" r="2.0"/><circle cx="227.4" cy="985.9" r="2.0"/><circle cx="216.3" cy="984.1" r="2.0"/><circle cx="220.9" cy="983.3" r="2.0"/><circle cx="224.0" cy="983.0" r="2.0"/><circle cx="227.1" cy="983.6" r="2.0"/><circle cx="230.2" cy="983.6" r="2.0"/><circle cx="234.9" cy="982.9" r="2.0"/><circle cx="216.7" cy="982.1" r="2.0"/><circle cx="219.8" cy="980.5" r="2.0"/><circle cx="222.9" cy="981.8" r="2.0"/><circle cx="226.0" cy="980.6" r="2.0"/><circle cx="229.1" cy="982.1" r="2.0"/><circle cx="232.2" cy="980.6" r="2.0"/><circle cx="236.2" cy="980.6" r="2.0"/><circle cx="212.5" cy="978.2" r="2.0"/><circle cx="214.2" cy="978.7" r="2.0"/><circle cx="217.3" cy="979.2" r="2.0"/><circle cx="220.4" cy="979.0" r="2.0"/><circle cx="223.5" cy="978.6" r="2.0"/><circle cx="226.6" cy="978.4" r="2.0"/><circle cx="232.8" cy="978.4" r="2.0"/><circle cx="209.1" cy="976.9" r="2.0"/><circle cx="211.3" cy="975.6" r="2.0"/><circle cx="217.5" cy="975.9" r="2.0"/><circle cx="220.6" cy="976.0" r="2.0"/><circle cx="223.7" cy="975.5" r="2.0"/><circle cx="226.8" cy="976.4" r="2.0"/><circle cx="229.9" cy="976.5" r="2.0"/><circle cx="233.0" cy="976.2" r="2.0"/><circle cx="240.1" cy="976.4" r="2.0"/><circle cx="205.7" cy="973.2" r="2.0"/><circle cx="213.1" cy="973.3" r="2.0"/><circle cx="216.2" cy="974.2" r="2.0"/><circle cx="222.4" cy="974.6" r="2.0"/><circle cx="228.6" cy="973.6" r="2.0"/><circle cx="231.7" cy="973.0" r="2.0"/><circle cx="237.9" cy="974.1" r="2.0"/><circle cx="241.0" cy="974.4" r="2.0"/><circle cx="244.1" cy="973.4" r="2.0"/><circle cx="246.0" cy="974.2" r="2.0"/><circle cx="202.9" cy="971.4" r="2.0"/><circle cx="207.8" cy="970.9" r="2.0"/><circle cx="214.0" cy="970.4" r="2.0"/><circle cx="217.1" cy="971.2" r="2.0"/><circle cx="220.2" cy="970.7" r="2.0"/><circle cx="223.3" cy="971.4" r="2.0"/><circle cx="226.4" cy="971.0" r="2.0"/><circle cx="235.7" cy="971.6" r="2.0"/><circle cx="238.8" cy="970.7" r="2.0"/><circle cx="241.9" cy="970.4" r="2.0"/><circle cx="206.0" cy="969.0" r="2.0"/><circle cx="209.1" cy="969.2" r="2.0"/><circle cx="212.2" cy="969.7" r="2.0"/><circle cx="215.3" cy="968.9" r="2.0"/><circle cx="218.4" cy="969.5" r="2.0"/><circle cx="221.5" cy="969.1" r="2.0"/><circle cx="224.6" cy="969.5" r="2.0"/><circle cx="227.7" cy="969.1" r="2.0"/><circle cx="237.0" cy="969.3" r="2.0"/><circle cx="243.2" cy="969.0" r="2.0"/><circle cx="246.3" cy="968.9" r="2.0"/><circle cx="248.8" cy="968.1" r="2.0"/><circle cx="208.3" cy="966.1" r="2.0"/><circle cx="211.4" cy="966.4" r="2.0"/><circle cx="214.5" cy="966.9" r="2.0"/><circle cx="217.6" cy="966.7" r="2.0"/><circle cx="220.7" cy="966.5" r="2.0"/><circle cx="223.8" cy="965.8" r="2.0"/><circle cx="226.9" cy="966.3" r="2.0"/><circle cx="230.0" cy="967.0" r="2.0"/><circle cx="233.1" cy="965.4" r="2.0"/><circle cx="236.2" cy="966.6" r="2.0"/><circle cx="239.3" cy="965.7" r="2.0"/><circle cx="245.5" cy="966.2" r="2.0"/><circle cx="199.6" cy="963.3" r="2.0"/><circle cx="202.2" cy="964.3" r="2.0"/><circle cx="211.5" cy="963.9" r="2.0"/><circle cx="214.6" cy="963.1" r="2.0"/><circle cx="217.7" cy="964.4" r="2.0"/><circle cx="220.8" cy="964.2" r="2.0"/><circle cx="227.0" cy="963.2" r="2.0"/><circle cx="230.1" cy="963.4" r="2.0"/><circle cx="233.2" cy="963.6" r="2.0"/><circle cx="236.3" cy="963.8" r="2.0"/><circle cx="239.4" cy="964.4" r="2.0"/><circle cx="245.6" cy="963.0" r="2.0"/><circle cx="248.7" cy="964.4" r="2.0"/><circle cx="252.3" cy="964.2" r="2.0"/><circle cx="194.4" cy="961.8" r="2.0"/><circle cx="197.7" cy="960.6" r="2.0"/><circle cx="200.8" cy="960.5" r="2.0"/><circle cx="203.9" cy="960.8" r="2.0"/><circle cx="207.0" cy="960.5" r="2.0"/><circle cx="210.1" cy="961.2" r="2.0"/><circle cx="213.2" cy="961.6" r="2.0"/><circle cx="216.3" cy="962.1" r="2.0"/><circle cx="219.4" cy="960.8" r="2.0"/><circle cx="222.5" cy="960.7" r="2.0"/><circle cx="225.6" cy="961.2" r="2.0"/><circle cx="228.7" cy="960.7" r="2.0"/><circle cx="231.8" cy="961.0" r="2.0"/><circle cx="234.9" cy="961.3" r="2.0"/><circle cx="238.0" cy="961.7" r="2.0"/><circle cx="241.1" cy="961.8" r="2.0"/><circle cx="247.3" cy="962.0" r="2.0"/><circle cx="250.4" cy="960.6" r="2.0"/><circle cx="253.5" cy="961.5" r="2.0"/><circle cx="198.5" cy="959.4" r="2.0"/><circle cx="201.3" cy="959.6" r="2.0"/><circle cx="204.4" cy="959.1" r="2.0"/><circle cx="207.5" cy="959.2" r="2.0"/><circle cx="210.6" cy="959.0" r="2.0"/><circle cx="213.7" cy="958.3" r="2.0"/><circle cx="226.1" cy="959.3" r="2.0"/><circle cx="229.2" cy="959.5" r="2.0"/><circle cx="235.4" cy="958.1" r="2.0"/><circle cx="238.5" cy="958.9" r="2.0"/><circle cx="241.6" cy="958.8" r="2.0"/><circle cx="244.7" cy="959.3" r="2.0"/><circle cx="247.8" cy="959.3" r="2.0"/><circle cx="251.2" cy="958.5" r="2.0"/><circle cx="201.0" cy="955.7" r="2.0"/><circle cx="205.0" cy="956.7" r="2.0"/><circle cx="208.1" cy="956.6" r="2.0"/><circle cx="214.3" cy="957.1" r="2.0"/><circle cx="217.4" cy="955.8" r="2.0"/><circle cx="220.5" cy="955.9" r="2.0"/><circle cx="223.6" cy="956.5" r="2.0"/><circle cx="226.7" cy="956.9" r="2.0"/><circle cx="229.8" cy="956.0" r="2.0"/><circle cx="232.9" cy="956.9" r="2.0"/><circle cx="239.1" cy="956.9" r="2.0"/><circle cx="245.3" cy="956.4" r="2.0"/><circle cx="248.4" cy="956.3" r="2.0"/><circle cx="250.6" cy="956.5" r="2.0"/><circle cx="203.9" cy="953.6" r="2.0"/><circle cx="207.0" cy="953.9" r="2.0"/><circle cx="210.1" cy="954.1" r="2.0"/><circle cx="213.2" cy="953.9" r="2.0"/><circle cx="216.3" cy="954.6" r="2.0"/><circle cx="222.5" cy="953.7" r="2.0"/><circle cx="225.6" cy="953.7" r="2.0"/><circle cx="228.7" cy="954.5" r="2.0"/><circle cx="231.8" cy="953.5" r="2.0"/><circle cx="234.9" cy="954.0" r="2.0"/><circle cx="241.1" cy="954.3" r="2.0"/><circle cx="244.2" cy="953.3" r="2.0"/><circle cx="248.7" cy="954.1" r="2.0"/><circle cx="203.4" cy="951.5" r="2.0"/><circle cx="206.0" cy="951.7" r="2.0"/><circle cx="209.1" cy="951.3" r="2.0"/><circle cx="212.2" cy="950.8" r="2.0"/><circle cx="215.3" cy="951.2" r="2.0"/><circle cx="218.4" cy="951.1" r="2.0"/><circle cx="221.5" cy="950.7" r="2.0"/><circle cx="224.6" cy="951.5" r="2.0"/><circle cx="227.7" cy="951.3" r="2.0"/><circle cx="233.9" cy="951.9" r="2.0"/><circle cx="237.0" cy="951.7" r="2.0"/><circle cx="240.1" cy="952.0" r="2.0"/><circle cx="243.2" cy="951.0" r="2.0"/><circle cx="208.4" cy="948.3" r="2.0"/><circle cx="211.5" cy="948.4" r="2.0"/><circle cx="214.6" cy="949.4" r="2.0"/><circle cx="217.7" cy="949.3" r="2.0"/><circle cx="220.8" cy="948.6" r="2.0"/><circle cx="223.9" cy="947.9" r="2.0"/><circle cx="227.0" cy="949.1" r="2.0"/><circle cx="236.3" cy="948.8" r="2.0"/><circle cx="239.4" cy="948.8" r="2.0"/><circle cx="242.5" cy="948.2" r="2.0"/><circle cx="246.5" cy="948.1" r="2.0"/><circle cx="201.5" cy="946.3" r="2.0"/><circle cx="203.2" cy="945.7" r="2.0"/><circle cx="206.3" cy="945.8" r="2.0"/><circle cx="209.4" cy="947.1" r="2.0"/><circle cx="215.6" cy="945.5" r="2.0"/><circle cx="221.8" cy="946.7" r="2.0"/><circle cx="224.9" cy="946.2" r="2.0"/><circle cx="228.0" cy="946.2" r="2.0"/><circle cx="231.1" cy="945.4" r="2.0"/><circle cx="234.2" cy="946.9" r="2.0"/><circle cx="237.3" cy="946.2" r="2.0"/><circle cx="240.4" cy="946.1" r="2.0"/><circle cx="243.5" cy="945.7" r="2.0"/><circle cx="248.0" cy="945.4" r="2.0"/><circle cx="199.6" cy="944.1" r="2.0"/><circle cx="207.1" cy="943.6" r="2.0"/><circle cx="210.2" cy="943.8" r="2.0"/><circle cx="216.4" cy="943.4" r="2.0"/><circle cx="222.6" cy="944.3" r="2.0"/><circle cx="225.7" cy="943.6" r="2.0"/><circle cx="235.0" cy="944.3" r="2.0"/><circle cx="238.1" cy="943.6" r="2.0"/><circle cx="241.2" cy="943.0" r="2.0"/><circle cx="244.3" cy="943.7" r="2.0"/><circle cx="247.4" cy="943.5" r="2.0"/><circle cx="250.5" cy="944.0" r="2.0"/><circle cx="252.3" cy="944.6" r="2.0"/><circle cx="195.7" cy="941.6" r="2.0"/><circle cx="199.3" cy="941.3" r="2.0"/><circle cx="202.4" cy="942.2" r="2.0"/><circle cx="205.5" cy="941.6" r="2.0"/><circle cx="208.6" cy="942.1" r="2.0"/><circle cx="211.7" cy="941.5" r="2.0"/><circle cx="214.8" cy="940.9" r="2.0"/><circle cx="217.9" cy="940.5" r="2.0"/><circle cx="221.0" cy="941.1" r="2.0"/><circle cx="224.1" cy="940.9" r="2.0"/><circle cx="230.3" cy="941.3" r="2.0"/><circle cx="236.5" cy="942.2" r="2.0"/><circle cx="239.6" cy="941.8" r="2.0"/><circle cx="242.7" cy="941.5" r="2.0"/><circle cx="245.8" cy="940.5" r="2.0"/><circle cx="252.0" cy="941.2" r="2.0"/><circle cx="254.6" cy="941.3" r="2.0"/><circle cx="196.6" cy="939.6" r="2.0"/><circle cx="200.0" cy="938.8" r="2.0"/><circle cx="203.1" cy="938.6" r="2.0"/><circle cx="206.2" cy="939.1" r="2.0"/><circle cx="209.3" cy="938.4" r="2.0"/><circle cx="212.4" cy="938.4" r="2.0"/><circle cx="215.5" cy="938.3" r="2.0"/><circle cx="218.6" cy="938.2" r="2.0"/><circle cx="221.7" cy="938.6" r="2.0"/><circle cx="227.9" cy="938.0" r="2.0"/><circle cx="237.2" cy="939.5" r="2.0"/><circle cx="240.3" cy="938.7" r="2.0"/><circle cx="246.5" cy="938.8" r="2.0"/><circle cx="252.4" cy="938.7" r="2.0"/><circle cx="198.4" cy="936.5" r="2.0"/><circle cx="203.0" cy="936.5" r="2.0"/><circle cx="206.1" cy="935.8" r="2.0"/><circle cx="209.2" cy="936.3" r="2.0"/><circle cx="212.3" cy="936.2" r="2.0"/><circle cx="215.4" cy="936.2" r="2.0"/><circle cx="218.5" cy="936.4" r="2.0"/><circle cx="221.6" cy="936.8" r="2.0"/><circle cx="224.7" cy="937.2" r="2.0"/><circle cx="230.9" cy="935.8" r="2.0"/><circle cx="234.0" cy="937.0" r="2.0"/><circle cx="237.1" cy="936.5" r="2.0"/><circle cx="240.2" cy="935.9" r="2.0"/><circle cx="243.3" cy="936.4" r="2.0"/><circle cx="246.4" cy="936.5" r="2.0"/><circle cx="249.5" cy="935.7" r="2.0"/><circle cx="251.1" cy="937.1" r="2.0"/><circle cx="205.4" cy="933.0" r="2.0"/><circle cx="208.5" cy="933.7" r="2.0"/><circle cx="211.6" cy="933.1" r="2.0"/><circle cx="214.7" cy="933.0" r="2.0"/><circle cx="217.8" cy="934.1" r="2.0"/><circle cx="220.9" cy="934.0" r="2.0"/><circle cx="224.0" cy="933.7" r="2.0"/><circle cx="227.1" cy="933.5" r="2.0"/><circle cx="230.2" cy="934.4" r="2.0"/><circle cx="233.3" cy="933.1" r="2.0"/><circle cx="236.4" cy="934.0" r="2.0"/><circle cx="239.5" cy="933.3" r="2.0"/><circle cx="242.6" cy="933.4" r="2.0"/><circle cx="245.7" cy="933.6" r="2.0"/><circle cx="248.8" cy="934.6" r="2.0"/><circle cx="250.7" cy="933.9" r="2.0"/><circle cx="208.6" cy="931.1" r="2.0"/><circle cx="211.7" cy="931.9" r="2.0"/><circle cx="214.8" cy="930.6" r="2.0"/><circle cx="217.9" cy="931.3" r="2.0"/><circle cx="221.0" cy="930.9" r="2.0"/><circle cx="224.1" cy="930.5" r="2.0"/><circle cx="227.2" cy="931.6" r="2.0"/><circle cx="230.3" cy="930.9" r="2.0"/><circle cx="233.4" cy="931.6" r="2.0"/><circle cx="236.5" cy="930.7" r="2.0"/><circle cx="239.6" cy="931.7" r="2.0"/><circle cx="242.7" cy="930.6" r="2.0"/><circle cx="245.0" cy="931.4" r="2.0"/><circle cx="215.8" cy="929.3" r="2.0"/><circle cx="218.9" cy="928.5" r="2.0"/><circle cx="222.0" cy="929.5" r="2.0"/><circle cx="228.2" cy="928.5" r="2.0"/><circle cx="231.3" cy="928.5" r="2.0"/><circle cx="234.4" cy="928.6" r="2.0"/><circle cx="237.5" cy="928.9" r="2.0"/><circle cx="240.6" cy="928.9" r="2.0"/><circle cx="242.4" cy="928.9" r="2.0"/><circle cx="208.5" cy="927.0" r="2.0"/><circle cx="210.6" cy="925.4" r="2.0"/><circle cx="213.7" cy="926.4" r="2.0"/><circle cx="216.8" cy="927.1" r="2.0"/><circle cx="219.9" cy="926.8" r="2.0"/><circle cx="223.0" cy="926.4" r="2.0"/><circle cx="226.1" cy="925.6" r="2.0"/><circle cx="229.2" cy="926.7" r="2.0"/><circle cx="235.4" cy="926.5" r="2.0"/><circle cx="238.5" cy="926.7" r="2.0"/><circle cx="242.6" cy="925.8" r="2.0"/><circle cx="207.9" cy="923.8" r="2.0"/><circle cx="210.2" cy="923.6" r="2.0"/><circle cx="213.3" cy="924.6" r="2.0"/><circle cx="216.4" cy="923.8" r="2.0"/><circle cx="219.5" cy="924.2" r="2.0"/><circle cx="222.6" cy="924.5" r="2.0"/><circle cx="225.7" cy="924.4" r="2.0"/><circle cx="228.8" cy="924.4" r="2.0"/><circle cx="231.9" cy="924.4" r="2.0"/><circle cx="242.0" cy="923.8" r="2.0"/><circle cx="207.6" cy="921.1" r="2.0"/><circle cx="211.4" cy="920.7" r="2.0"/><circle cx="214.5" cy="922.1" r="2.0"/><circle cx="217.6" cy="920.7" r="2.0"/><circle cx="220.7" cy="921.2" r="2.0"/><circle cx="223.8" cy="922.1" r="2.0"/><circle cx="226.9" cy="921.0" r="2.0"/><circle cx="230.0" cy="921.5" r="2.0"/><circle cx="233.1" cy="920.7" r="2.0"/><circle cx="236.2" cy="921.2" r="2.0"/><circle cx="239.3" cy="922.0" r="2.0"/><circle cx="241.7" cy="920.6" r="2.0"/><circle cx="208.0" cy="918.3" r="2.0"/><circle cx="210.2" cy="919.0" r="2.0"/><circle cx="213.3" cy="918.2" r="2.0"/><circle cx="216.4" cy="918.2" r="2.0"/><circle cx="219.5" cy="918.5" r="2.0"/><circle cx="222.6" cy="919.3" r="2.0"/><circle cx="225.7" cy="918.4" r="2.0"/><circle cx="235.0" cy="918.9" r="2.0"/><circle cx="242.1" cy="918.3" r="2.0"/><circle cx="210.5" cy="916.1" r="2.0"/><circle cx="213.6" cy="916.3" r="2.0"/><circle cx="216.7" cy="917.1" r="2.0"/><circle cx="219.8" cy="915.8" r="2.0"/><circle cx="222.9" cy="916.2" r="2.0"/><circle cx="226.0" cy="916.8" r="2.0"/><circle cx="229.1" cy="916.5" r="2.0"/><circle cx="232.2" cy="915.7" r="2.0"/><circle cx="235.3" cy="915.9" r="2.0"/><circle cx="242.9" cy="916.5" r="2.0"/><circle cx="209.6" cy="913.8" r="2.0"/><circle cx="214.3" cy="914.3" r="2.0"/><circle cx="217.4" cy="914.3" r="2.0"/><circle cx="220.5" cy="914.3" r="2.0"/><circle cx="223.6" cy="913.4" r="2.0"/><circle cx="226.7" cy="913.1" r="2.0"/><circle cx="229.8" cy="913.7" r="2.0"/><circle cx="236.0" cy="914.4" r="2.0"/><circle cx="239.1" cy="914.3" r="2.0"/><circle cx="240.6" cy="914.5" r="2.0"/><circle cx="210.6" cy="910.8" r="2.0"/><circle cx="212.4" cy="911.3" r="2.0"/><circle cx="215.5" cy="911.9" r="2.0"/><circle cx="218.6" cy="911.0" r="2.0"/><circle cx="221.7" cy="910.9" r="2.0"/><circle cx="224.8" cy="911.7" r="2.0"/><circle cx="227.9" cy="911.6" r="2.0"/><circle cx="231.0" cy="911.1" r="2.0"/><circle cx="234.1" cy="912.1" r="2.0"/><circle cx="238.5" cy="911.6" r="2.0"/><circle cx="211.6" cy="909.2" r="2.0"/><circle cx="213.2" cy="908.9" r="2.0"/><circle cx="216.3" cy="907.9" r="2.0"/><circle cx="222.5" cy="908.3" r="2.0"/><circle cx="225.6" cy="908.4" r="2.0"/><circle cx="228.7" cy="908.9" r="2.0"/><circle cx="231.8" cy="908.5" r="2.0"/><circle cx="234.9" cy="909.1" r="2.0"/><circle cx="239.5" cy="908.3" r="2.0"/><circle cx="212.7" cy="907.1" r="2.0"/><circle cx="216.5" cy="906.7" r="2.0"/><circle cx="219.6" cy="906.9" r="2.0"/><circle cx="222.7" cy="905.7" r="2.0"/><circle cx="225.8" cy="906.6" r="2.0"/><circle cx="228.9" cy="905.7" r="2.0"/><circle cx="232.0" cy="906.9" r="2.0"/><circle cx="235.1" cy="905.6" r="2.0"/><circle cx="237.5" cy="905.7" r="2.0"/><circle cx="213.8" cy="903.0" r="2.0"/><circle cx="218.8" cy="903.8" r="2.0"/><circle cx="221.9" cy="904.3" r="2.0"/><circle cx="225.0" cy="903.6" r="2.0"/><circle cx="228.1" cy="903.6" r="2.0"/><circle cx="231.2" cy="903.6" r="2.0"/><circle cx="235.5" cy="904.6" r="2.0"/><circle cx="214.8" cy="901.5" r="2.0"/><circle cx="218.8" cy="901.0" r="2.0"/><circle cx="221.9" cy="901.5" r="2.0"/><circle cx="225.0" cy="901.1" r="2.0"/><circle cx="228.1" cy="901.8" r="2.0"/><circle cx="231.2" cy="901.5" r="2.0"/><circle cx="234.3" cy="901.8" r="2.0"/><circle cx="214.2" cy="898.8" r="2.0"/><circle cx="217.5" cy="899.2" r="2.0"/><circle cx="223.7" cy="899.2" r="2.0"/><circle cx="226.8" cy="898.3" r="2.0"/><circle cx="233.0" cy="898.3" r="2.0"/><circle cx="235.9" cy="898.3" r="2.0"/><circle cx="213.2" cy="896.0" r="2.0"/><circle cx="219.7" cy="896.2" r="2.0"/><circle cx="222.8" cy="897.1" r="2.0"/><circle cx="225.9" cy="897.0" r="2.0"/><circle cx="229.0" cy="896.4" r="2.0"/><circle cx="232.1" cy="895.9" r="2.0"/><circle cx="212.9" cy="893.1" r="2.0"/><circle cx="217.0" cy="893.4" r="2.0"/><circle cx="223.2" cy="893.9" r="2.0"/><circle cx="226.3" cy="893.2" r="2.0"/><circle cx="229.4" cy="893.0" r="2.0"/><circle cx="232.5" cy="893.2" r="2.0"/><circle cx="214.6" cy="891.6" r="2.0"/><circle cx="218.2" cy="891.1" r="2.0"/><circle cx="221.3" cy="891.8" r="2.0"/><circle cx="224.4" cy="890.8" r="2.0"/><circle cx="227.5" cy="890.7" r="2.0"/><circle cx="230.6" cy="891.4" r="2.0"/><circle cx="233.7" cy="891.3" r="2.0"/><circle cx="236.3" cy="891.4" r="2.0"/><circle cx="216.3" cy="888.0" r="2.0"/><circle cx="218.9" cy="888.2" r="2.0"/><circle cx="225.1" cy="888.7" r="2.0"/><circle cx="228.2" cy="889.0" r="2.0"/><circle cx="231.3" cy="889.2" r="2.0"/><circle cx="234.9" cy="888.8" r="2.0"/><circle cx="218.0" cy="886.9" r="2.0"/><circle cx="222.6" cy="886.2" r="2.0"/><circle cx="225.7" cy="887.0" r="2.0"/><circle cx="228.8" cy="886.3" r="2.0"/><circle cx="231.9" cy="887.0" r="2.0"/><circle cx="233.5" cy="885.5" r="2.0"/><circle cx="222.8" cy="884.0" r="2.0"/><circle cx="225.9" cy="883.4" r="2.0"/><circle cx="229.0" cy="883.0" r="2.0"/><circle cx="231.4" cy="883.7" r="2.0"/><circle cx="219.5" cy="880.5" r="2.0"/><circle cx="222.6" cy="881.3" r="2.0"/><circle cx="225.7" cy="880.9" r="2.0"/><circle cx="228.8" cy="880.8" r="2.0"/><circle cx="231.9" cy="882.0" r="2.0"/><circle cx="219.9" cy="879.4" r="2.0"/><circle cx="224.5" cy="879.3" r="2.0"/><circle cx="227.6" cy="879.2" r="2.0"/><circle cx="229.2" cy="879.5" r="2.0"/><circle cx="220.4" cy="875.6" r="2.0"/><circle cx="222.2" cy="877.1" r="2.0"/><circle cx="225.3" cy="875.8" r="2.0"/><circle cx="229.7" cy="876.0" r="2.0"/><circle cx="222.6" cy="873.6" r="2.0"/><circle cx="225.7" cy="873.9" r="2.0"/><circle cx="230.1" cy="873.0" r="2.0"/><circle cx="220.8" cy="871.3" r="2.0"/><circle cx="230.1" cy="870.8" r="2.0"/><circle cx="226.0" cy="869.4" r="2.0"/><circle cx="229.7" cy="868.7" r="2.0"/><circle cx="225.2" cy="866.5" r="2.0"/><circle cx="229.3" cy="867.0" r="2.0"/><circle cx="219.7" cy="864.2" r="2.0"/><circle cx="221.4" cy="864.5" r="2.0"/><circle cx="227.6" cy="863.1" r="2.0"/><circle cx="232.1" cy="864.6" r="2.0"/><circle cx="219.3" cy="860.8" r="2.0"/><circle cx="222.2" cy="861.7" r="2.0"/><circle cx="225.3" cy="860.7" r="2.0"/><circle cx="228.4" cy="861.6" r="2.0"/><circle cx="231.7" cy="861.1" r="2.0"/><circle cx="222.5" cy="858.3" r="2.0"/><circle cx="225.6" cy="859.5" r="2.0"/><circle cx="228.7" cy="858.4" r="2.0"/><circle cx="231.3" cy="858.1" r="2.0"/><circle cx="219.1" cy="856.3" r="2.0"/><circle cx="223.7" cy="855.5" r="2.0"/><circle cx="226.8" cy="855.9" r="2.0"/><circle cx="229.9" cy="856.8" r="2.0"/><circle cx="231.5" cy="855.9" r="2.0"/><circle cx="219.6" cy="853.4" r="2.0"/><circle cx="223.5" cy="853.2" r="2.0"/><circle cx="232.0" cy="853.7" r="2.0"/><circle cx="220.1" cy="852.0" r="2.0"/><circle cx="224.0" cy="850.7" r="2.0"/><circle cx="227.1" cy="851.5" r="2.0"/><circle cx="229.4" cy="851.6" r="2.0"/><circle cx="220.6" cy="848.8" r="2.0"/><circle cx="224.6" cy="849.1" r="2.0"/><circle cx="227.7" cy="849.6" r="2.0"/><circle cx="229.9" cy="849.3" r="2.0"/><circle cx="221.1" cy="845.8" r="2.0"/><circle cx="223.2" cy="846.8" r="2.0"/><circle cx="226.3" cy="846.8" r="2.0"/><circle cx="230.4" cy="846.3" r="2.0"/><circle cx="221.6" cy="843.8" r="2.0"/><circle cx="223.8" cy="844.0" r="2.0"/><circle cx="227.8" cy="843.9" r="2.0"/><circle cx="222.0" cy="840.7" r="2.0"/><circle cx="226.3" cy="841.3" r="2.0"/><circle cx="228.2" cy="841.2" r="2.0"/><circle cx="222.4" cy="838.0" r="2.0"/><circle cx="228.6" cy="838.9" r="2.0"/><circle cx="222.9" cy="835.7" r="2.0"/><circle cx="226.9" cy="835.5" r="2.0"/><circle cx="229.1" cy="836.5" r="2.0"/><circle cx="223.5" cy="833.9" r="2.0"/><circle cx="226.6" cy="834.3" r="2.0"/><circle cx="224.3" cy="830.7" r="2.0"/><circle cx="227.4" cy="831.9" r="2.0"/><circle cx="225.0" cy="828.0" r="2.0"/><circle cx="225.2" cy="826.0" r="2.0"/><circle cx="225.3" cy="824.6" r="2.0"/><circle cx="225.5" cy="821.3" r="2.0"/><circle cx="225.7" cy="819.6" r="2.0"/><circle cx="225.8" cy="816.2" r="2.0"/><circle cx="226.0" cy="813.0" r="2.0"/><circle cx="226.0" cy="661.7" r="2.0"/><circle cx="226.0" cy="734.9" r="2.0"/><circle cx="226.0" cy="772.8" r="2.0"/><circle cx="224.5" cy="785.9" r="2.0"/><circle cx="227.5" cy="788.5" r="2.0"/><circle cx="226.0" cy="801.5" r="2.0"/><circle cx="226.0" cy="808.1" r="2.0"/><circle cx="192.0" cy="960.6" r="2.0"/><circle cx="195.4" cy="960.6" r="2.0"/><circle cx="198.8" cy="960.6" r="2.0"/><circle cx="202.2" cy="960.6" r="2.0"/><circle cx="205.6" cy="960.6" r="2.0"/><circle cx="209.0" cy="960.6" r="2.0"/><circle cx="212.4" cy="960.6" r="2.0"/><circle cx="215.8" cy="960.6" r="2.0"/><circle cx="219.2" cy="960.6" r="2.0"/><circle cx="222.6" cy="960.6" r="2.0"/><circle cx="226.0" cy="960.6" r="2.0"/><circle cx="229.4" cy="960.6" r="2.0"/><circle cx="232.8" cy="960.6" r="2.0"/><circle cx="236.2" cy="960.6" r="2.0"/><circle cx="239.6" cy="960.6" r="2.0"/><circle cx="243.0" cy="960.6" r="2.0"/><circle cx="246.4" cy="960.6" r="2.0"/><circle cx="249.8" cy="960.6" r="2.0"/><circle cx="253.2" cy="960.6" r="2.0"/><circle cx="256.6" cy="960.6" r="2.0"/><circle cx="260.0" cy="960.6" r="2.0"/></g><g fill="#d4c8a7" fill-opacity="0.75" stroke="#c3b48e" stroke-width="0.6"><circle cx="312.8" cy="997.3" r="1.9"/><circle cx="316.8" cy="995.8" r="1.9"/><circle cx="320.9" cy="996.4" r="1.9"/><circle cx="329.1" cy="997.2" r="1.9"/><circle cx="333.2" cy="997.3" r="1.9"/><circle cx="337.3" cy="996.8" r="1.9"/><circle cx="341.4" cy="997.8" r="1.9"/><circle cx="345.5" cy="997.7" r="1.9"/><circle cx="349.6" cy="997.4" r="1.9"/><circle cx="353.7" cy="996.7" r="1.9"/><circle cx="362.0" cy="996.0" r="1.9"/><circle cx="307.3" cy="992.8" r="1.9"/><circle cx="321.3" cy="993.6" r="1.9"/><circle cx="325.4" cy="993.3" r="1.9"/><circle cx="329.5" cy="993.0" r="1.9"/><circle cx="333.6" cy="992.7" r="1.9"/><circle cx="337.7" cy="994.4" r="1.9"/><circle cx="341.8" cy="993.6" r="1.9"/><circle cx="345.9" cy="993.7" r="1.9"/><circle cx="350.0" cy="992.7" r="1.9"/><circle cx="354.1" cy="994.8" r="1.9"/><circle cx="362.3" cy="993.4" r="1.9"/><circle cx="366.4" cy="994.2" r="1.9"/><circle cx="368.8" cy="992.9" r="1.9"/><circle cx="304.9" cy="990.6" r="1.9"/><circle cx="312.0" cy="989.5" r="1.9"/><circle cx="320.2" cy="990.6" r="1.9"/><circle cx="324.3" cy="990.4" r="1.9"/><circle cx="328.4" cy="991.1" r="1.9"/><circle cx="332.5" cy="990.7" r="1.9"/><circle cx="336.6" cy="991.0" r="1.9"/><circle cx="340.7" cy="990.0" r="1.9"/><circle cx="344.8" cy="990.8" r="1.9"/><circle cx="348.9" cy="990.4" r="1.9"/><circle cx="353.0" cy="990.1" r="1.9"/><circle cx="357.1" cy="991.6" r="1.9"/><circle cx="361.2" cy="991.6" r="1.9"/><circle cx="365.3" cy="991.5" r="1.9"/><circle cx="370.5" cy="989.8" r="1.9"/><circle cx="309.9" cy="986.8" r="1.9"/><circle cx="314.0" cy="987.0" r="1.9"/><circle cx="318.1" cy="986.2" r="1.9"/><circle cx="322.2" cy="987.6" r="1.9"/><circle cx="334.5" cy="986.3" r="1.9"/><circle cx="338.6" cy="988.0" r="1.9"/><circle cx="346.8" cy="986.7" r="1.9"/><circle cx="350.9" cy="987.3" r="1.9"/><circle cx="355.0" cy="986.8" r="1.9"/><circle cx="367.3" cy="986.9" r="1.9"/><circle cx="307.8" cy="984.6" r="1.9"/><circle cx="311.9" cy="983.5" r="1.9"/><circle cx="316.0" cy="983.6" r="1.9"/><circle cx="320.1" cy="984.6" r="1.9"/><circle cx="324.2" cy="985.0" r="1.9"/><circle cx="328.3" cy="983.6" r="1.9"/><circle cx="332.4" cy="985.2" r="1.9"/><circle cx="336.5" cy="984.4" r="1.9"/><circle cx="348.8" cy="984.0" r="1.9"/><circle cx="352.9" cy="985.0" r="1.9"/><circle cx="361.1" cy="983.8" r="1.9"/><circle cx="365.2" cy="984.7" r="1.9"/><circle cx="370.2" cy="983.1" r="1.9"/><circle cx="321.7" cy="981.6" r="1.9"/><circle cx="325.8" cy="980.0" r="1.9"/><circle cx="329.9" cy="980.5" r="1.9"/><circle cx="338.1" cy="981.0" r="1.9"/><circle cx="342.2" cy="980.1" r="1.9"/><circle cx="346.3" cy="981.4" r="1.9"/><circle cx="350.4" cy="980.4" r="1.9"/><circle cx="354.5" cy="980.5" r="1.9"/><circle cx="358.6" cy="980.1" r="1.9"/><circle cx="362.7" cy="980.5" r="1.9"/><circle cx="366.8" cy="981.5" r="1.9"/><circle cx="370.0" cy="981.9" r="1.9"/><circle cx="304.3" cy="977.7" r="1.9"/><circle cx="307.8" cy="977.0" r="1.9"/><circle cx="311.9" cy="977.4" r="1.9"/><circle cx="316.0" cy="977.4" r="1.9"/><circle cx="324.2" cy="977.4" r="1.9"/><circle cx="328.3" cy="977.1" r="1.9"/><circle cx="332.4" cy="977.1" r="1.9"/><circle cx="340.6" cy="978.2" r="1.9"/><circle cx="344.7" cy="977.7" r="1.9"/><circle cx="348.8" cy="978.5" r="1.9"/><circle cx="352.9" cy="977.6" r="1.9"/><circle cx="365.2" cy="977.8" r="1.9"/><circle cx="369.9" cy="977.5" r="1.9"/><circle cx="304.1" cy="975.6" r="1.9"/><circle cx="308.9" cy="974.9" r="1.9"/><circle cx="313.0" cy="975.1" r="1.9"/><circle cx="317.1" cy="974.5" r="1.9"/><circle cx="321.2" cy="974.1" r="1.9"/><circle cx="325.3" cy="973.9" r="1.9"/><circle cx="329.4" cy="974.0" r="1.9"/><circle cx="333.5" cy="975.2" r="1.9"/><circle cx="337.6" cy="975.5" r="1.9"/><circle cx="341.7" cy="974.3" r="1.9"/><circle cx="354.0" cy="973.7" r="1.9"/><circle cx="358.1" cy="975.3" r="1.9"/><circle cx="362.2" cy="975.2" r="1.9"/><circle cx="366.3" cy="974.8" r="1.9"/><circle cx="369.7" cy="974.3" r="1.9"/><circle cx="304.0" cy="971.1" r="1.9"/><circle cx="311.7" cy="970.7" r="1.9"/><circle cx="315.8" cy="972.4" r="1.9"/><circle cx="319.9" cy="970.3" r="1.9"/><circle cx="336.3" cy="971.9" r="1.9"/><circle cx="340.4" cy="970.5" r="1.9"/><circle cx="352.7" cy="972.2" r="1.9"/><circle cx="356.8" cy="970.9" r="1.9"/><circle cx="360.9" cy="970.6" r="1.9"/><circle cx="365.0" cy="971.8" r="1.9"/><circle cx="369.6" cy="970.6" r="1.9"/><circle cx="303.8" cy="969.0" r="1.9"/><circle cx="306.6" cy="967.2" r="1.9"/><circle cx="310.7" cy="968.2" r="1.9"/><circle cx="314.8" cy="968.2" r="1.9"/><circle cx="318.9" cy="968.8" r="1.9"/><circle cx="323.0" cy="968.4" r="1.9"/><circle cx="327.1" cy="968.4" r="1.9"/><circle cx="331.2" cy="967.9" r="1.9"/><circle cx="335.3" cy="968.6" r="1.9"/><circle cx="339.4" cy="969.1" r="1.9"/><circle cx="343.5" cy="968.9" r="1.9"/><circle cx="347.6" cy="969.2" r="1.9"/><circle cx="351.7" cy="968.0" r="1.9"/><circle cx="355.8" cy="968.4" r="1.9"/><circle cx="359.9" cy="968.9" r="1.9"/><circle cx="364.0" cy="967.2" r="1.9"/><circle cx="369.4" cy="967.2" r="1.9"/><circle cx="303.6" cy="964.4" r="1.9"/><circle cx="305.9" cy="965.4" r="1.9"/><circle cx="310.0" cy="966.0" r="1.9"/><circle cx="318.2" cy="965.9" r="1.9"/><circle cx="322.3" cy="964.3" r="1.9"/><circle cx="330.5" cy="964.3" r="1.9"/><circle cx="334.6" cy="964.8" r="1.9"/><circle cx="338.7" cy="964.5" r="1.9"/><circle cx="342.8" cy="964.0" r="1.9"/><circle cx="346.9" cy="966.0" r="1.9"/><circle cx="355.1" cy="965.9" r="1.9"/><circle cx="359.2" cy="964.5" r="1.9"/><circle cx="369.2" cy="965.3" r="1.9"/><circle cx="307.1" cy="961.7" r="1.9"/><circle cx="309.2" cy="962.5" r="1.9"/><circle cx="313.3" cy="961.4" r="1.9"/><circle cx="317.4" cy="962.6" r="1.9"/><circle cx="325.6" cy="961.1" r="1.9"/><circle cx="329.7" cy="961.8" r="1.9"/><circle cx="333.8" cy="961.1" r="1.9"/><circle cx="337.9" cy="962.0" r="1.9"/><circle cx="342.0" cy="961.8" r="1.9"/><circle cx="350.2" cy="961.2" r="1.9"/><circle cx="354.3" cy="960.8" r="1.9"/><circle cx="358.4" cy="962.0" r="1.9"/><circle cx="362.5" cy="961.8" r="1.9"/><circle cx="368.6" cy="961.9" r="1.9"/><circle cx="316.0" cy="958.2" r="1.9"/><circle cx="323.7" cy="958.5" r="1.9"/><circle cx="327.8" cy="957.8" r="1.9"/><circle cx="331.9" cy="957.9" r="1.9"/><circle cx="336.0" cy="958.2" r="1.9"/><circle cx="340.1" cy="959.5" r="1.9"/><circle cx="344.2" cy="958.2" r="1.9"/><circle cx="348.3" cy="958.3" r="1.9"/><circle cx="352.4" cy="958.9" r="1.9"/><circle cx="357.0" cy="958.9" r="1.9"/><circle cx="320.4" cy="956.0" r="1.9"/><circle cx="327.0" cy="954.6" r="1.9"/><circle cx="331.1" cy="954.9" r="1.9"/><circle cx="339.3" cy="954.7" r="1.9"/><circle cx="343.4" cy="955.6" r="1.9"/><circle cx="347.5" cy="955.3" r="1.9"/><circle cx="329.9" cy="952.1" r="1.9"/><circle cx="334.0" cy="952.6" r="1.9"/><circle cx="338.1" cy="951.6" r="1.9"/><circle cx="342.2" cy="952.6" r="1.9"/><circle cx="346.5" cy="952.5" r="1.9"/><circle cx="326.0" cy="948.6" r="1.9"/><circle cx="330.6" cy="947.9" r="1.9"/><circle cx="342.9" cy="950.0" r="1.9"/><circle cx="327.8" cy="945.3" r="1.9"/><circle cx="331.9" cy="945.5" r="1.9"/><circle cx="336.0" cy="944.7" r="1.9"/><circle cx="340.1" cy="945.3" r="1.9"/><circle cx="344.2" cy="944.9" r="1.9"/><circle cx="324.7" cy="942.8" r="1.9"/><circle cx="332.4" cy="941.9" r="1.9"/><circle cx="349.3" cy="942.2" r="1.9"/><circle cx="330.3" cy="939.5" r="1.9"/><circle cx="338.5" cy="939.4" r="1.9"/><circle cx="347.9" cy="939.6" r="1.9"/><circle cx="336.2" cy="936.0" r="1.9"/><circle cx="340.3" cy="936.1" r="1.9"/><circle cx="345.7" cy="935.9" r="1.9"/><circle cx="332.4" cy="933.1" r="1.9"/><circle cx="330.0" cy="930.5" r="1.9"/><circle cx="334.3" cy="930.6" r="1.9"/><circle cx="338.4" cy="930.4" r="1.9"/><circle cx="342.3" cy="930.0" r="1.9"/><circle cx="330.0" cy="926.3" r="1.9"/><circle cx="340.2" cy="926.6" r="1.9"/><circle cx="342.3" cy="926.9" r="1.9"/><circle cx="330.7" cy="923.0" r="1.9"/><circle cx="336.3" cy="922.4" r="1.9"/><circle cx="340.4" cy="922.3" r="1.9"/><circle cx="333.5" cy="919.3" r="1.9"/><circle cx="341.7" cy="919.4" r="1.9"/><circle cx="335.4" cy="918.0" r="1.9"/><circle cx="339.5" cy="916.7" r="1.9"/><circle cx="330.4" cy="913.9" r="1.9"/><circle cx="335.1" cy="914.3" r="1.9"/><circle cx="342.7" cy="913.3" r="1.9"/><circle cx="329.2" cy="909.8" r="1.9"/><circle cx="334.4" cy="910.8" r="1.9"/><circle cx="338.5" cy="909.6" r="1.9"/><circle cx="342.6" cy="910.3" r="1.9"/><circle cx="345.6" cy="910.7" r="1.9"/><circle cx="338.0" cy="907.4" r="1.9"/><circle cx="337.3" cy="905.0" r="1.9"/><circle cx="336.6" cy="901.8" r="1.9"/><circle cx="336.2" cy="898.7" r="1.9"/><circle cx="337.4" cy="894.1" r="1.9"/><circle cx="338.1" cy="819.8" r="1.9"/><circle cx="338.1" cy="834.9" r="1.9"/><circle cx="334.1" cy="860.4" r="1.9"/><circle cx="338.1" cy="862.3" r="1.9"/><circle cx="341.4" cy="861.0" r="1.9"/><circle cx="352.6" cy="911.3" r="1.9"/></g>
<path d="M207.8 926.8H245.4M226.6 926.8V931.2" stroke="#8f959e" stroke-width="1.1" fill="none"/>
<path d="M317.6 956.9H355.2M336.4 956.9V961.4" stroke="#aaa089" stroke-width="1.1" fill="none"/>
<path d="M151.9 606.8V998.9M137.0 998.9H412.4" stroke="#3a3a3a" stroke-width="1.3" fill="none"/>
<path d="M137.0 998.9H151.9" stroke="#3a3a3a" stroke-width="1.3"/>
<text transform="translate(128.0 1009.4) scale(0.955 1)" font-size="31.4" text-anchor="end" >0</text>
<path d="M137.0 868.2H151.9" stroke="#3a3a3a" stroke-width="1.3"/>
<text transform="translate(128.0 878.7) scale(0.955 1)" font-size="31.4" text-anchor="end" >10</text>
<path d="M137.0 737.5H151.9" stroke="#3a3a3a" stroke-width="1.3"/>
<text transform="translate(128.0 748.0) scale(0.955 1)" font-size="31.4" text-anchor="end" >20</text>
<path d="M137.0 606.8H151.9" stroke="#3a3a3a" stroke-width="1.3"/>
<text transform="translate(128.0 617.3) scale(0.955 1)" font-size="31.4" text-anchor="end" >30</text>
<path d="M226.1 998.9V1013.9" stroke="#3a3a3a" stroke-width="1.3"/>
<path d="M337.7 998.9V1013.9" stroke="#3a3a3a" stroke-width="1.3"/>
<path d="M225.5 609.9V594.1H334.9V609.9" stroke="#3a3a3a" stroke-width="1.3" fill="none"/>
<text x="281.3" y="588.6" font-size="26" text-anchor="middle" >***</text>
<text transform="translate(220.8 1047.5) scale(0.955 1)" font-size="31.4" text-anchor="middle" >Control</text>
<text transform="translate(339.9 1047.5) scale(0.955 1)" font-size="31.4" text-anchor="middle" >OMA</text>
<text x="0" y="0" font-size="31.4" text-anchor="middle" transform="translate(76.1 807.8) rotate(-90)" xml:space="preserve">AMH (ng/mL)</text>
<text x="9.0" y="594.0" font-size="49" text-anchor="start" >D</text>
<rect x="898.7" y="903.7" width="68.9" height="93.3" fill="#a1bada" stroke="#5b7db2" stroke-width="1.1"/>
<rect x="1011.3" y="941.0" width="68.7" height="56.0" fill="#ddd6c3" stroke="#b4a786" stroke-width="1.1"/>
<circle cx="933.1" cy="650.4" r="1.90" fill="#7f9fd3"/><circle cx="933.1" cy="748.5" r="1.90" fill="#7f9fd3"/><circle cx="933.1" cy="761.6" r="1.90" fill="#7f9fd3"/><circle cx="933.1" cy="768.1" r="1.90" fill="#7f9fd3"/><circle cx="933.1" cy="781.2" r="1.90" fill="#7f9fd3"/><path d="M932.5 787.7h1.2" stroke="#4670b6" stroke-width="3.8" stroke-linecap="round"/><path d="M930.8 794.3h4.7" stroke="#4670b6" stroke-width="3.8" stroke-linecap="round"/><path d="M930.8 800.8h4.7" stroke="#4670b6" stroke-width="3.8" stroke-linecap="round"/><path d="M928.7 807.3h8.8" stroke="#4670b6" stroke-width="3.8" stroke-linecap="round"/><path d="M930.8 813.9h4.7" stroke="#4670b6" stroke-width="3.8" stroke-linecap="round"/><path d="M929.7 820.4h6.8" stroke="#4670b6" stroke-width="3.8" stroke-linecap="round"/><path d="M931.2 827.0h3.8" stroke="#4670b6" stroke-width="3.8" stroke-linecap="round"/><path d="M931.0 833.5h4.3" stroke="#4670b6" stroke-width="3.8" stroke-linecap="round"/><path d="M925.5 840.0h15.2" stroke="#4670b6" stroke-width="3.8" stroke-linecap="round"/><path d="M924.9 846.6h16.4" stroke="#4670b6" stroke-width="3.8" stroke-linecap="round"/><path d="M929.3 853.1h7.6" stroke="#4670b6" stroke-width="3.8" stroke-linecap="round"/><path d="M922.6 859.7h21.0" stroke="#4670b6" stroke-width="3.8" stroke-linecap="round"/><path d="M915.9 866.2h34.5" stroke="#4670b6" stroke-width="3.8" stroke-linecap="round"/><path d="M921.4 872.7h23.5" stroke="#4670b6" stroke-width="3.8" stroke-linecap="round"/><path d="M909.1 879.3h47.9" stroke="#4670b6" stroke-width="3.8" stroke-linecap="round"/><path d="M912.1 885.8h41.9" stroke="#4670b6" stroke-width="3.8" stroke-linecap="round"/><path d="M909.6 892.4h46.9" stroke="#4670b6" stroke-width="3.8" stroke-linecap="round"/><path d="M902.9 898.9h60.4" stroke="#4670b6" stroke-width="3.8" stroke-linecap="round"/><path d="M906.9 905.4h52.5" stroke="#4670b6" stroke-width="3.8" stroke-linecap="round"/><path d="M897.9 912.0h70.4" stroke="#4670b6" stroke-width="3.8" stroke-linecap="round"/><path d="M906.0 918.5h54.2" stroke="#4670b6" stroke-width="3.8" stroke-linecap="round"/><path d="M903.5 925.1h59.2" stroke="#4670b6" stroke-width="3.8" stroke-linecap="round"/><path d="M905.6 931.6h55.1" stroke="#4670b6" stroke-width="3.8" stroke-linecap="round"/><path d="M912.8 938.1h40.7" stroke="#4670b6" stroke-width="3.8" stroke-linecap="round"/><path d="M914.5 944.7h37.2" stroke="#4670b6" stroke-width="3.8" stroke-linecap="round"/><path d="M923.9 951.2h18.5" stroke="#4670b6" stroke-width="3.8" stroke-linecap="round"/><path d="M913.3 957.8h39.6" stroke="#4670b6" stroke-width="3.8" stroke-linecap="round"/><path d="M926.9 964.3h12.4" stroke="#4670b6" stroke-width="3.8" stroke-linecap="round"/><path d="M929.0 970.8h8.2" stroke="#4670b6" stroke-width="3.8" stroke-linecap="round"/><circle cx="933.1" cy="977.4" r="1.90" fill="#7f9fd3"/><path d="M932.0 983.9h2.2" stroke="#4670b6" stroke-width="3.8" stroke-linecap="round"/><g fill="#d3c7a5" stroke="#c4b58f" stroke-width="0.6"><circle cx="1045.1" cy="689.6" r="1.8"/><circle cx="1045.1" cy="774.6" r="1.8"/><circle cx="1042.7" cy="840.0" r="1.8"/><circle cx="1047.5" cy="840.0" r="1.8"/><circle cx="1040.3" cy="859.7" r="1.8"/><circle cx="1045.1" cy="859.7" r="1.8"/><circle cx="1049.9" cy="859.7" r="1.8"/><circle cx="1042.7" cy="866.2" r="1.8"/><circle cx="1047.5" cy="866.2" r="1.8"/><circle cx="1040.3" cy="872.7" r="1.8"/><circle cx="1045.1" cy="872.7" r="1.8"/><circle cx="1049.9" cy="872.7" r="1.8"/><circle cx="1040.3" cy="879.3" r="1.8"/><circle cx="1045.1" cy="879.3" r="1.8"/><circle cx="1049.9" cy="879.3" r="1.8"/><circle cx="1045.1" cy="885.8" r="1.8"/><circle cx="1021.1" cy="892.4" r="1.8"/><circle cx="1025.9" cy="892.4" r="1.8"/><circle cx="1030.7" cy="892.4" r="1.8"/><circle cx="1035.5" cy="892.4" r="1.8"/><circle cx="1040.3" cy="892.4" r="1.8"/><circle cx="1045.1" cy="892.4" r="1.8"/><circle cx="1049.9" cy="892.4" r="1.8"/><circle cx="1054.7" cy="892.4" r="1.8"/><circle cx="1059.5" cy="892.4" r="1.8"/><circle cx="1064.3" cy="892.4" r="1.8"/><circle cx="1069.1" cy="892.4" r="1.8"/><circle cx="1035.5" cy="898.9" r="1.8"/><circle cx="1040.3" cy="898.9" r="1.8"/><circle cx="1045.1" cy="898.9" r="1.8"/><circle cx="1049.9" cy="898.9" r="1.8"/><circle cx="1054.7" cy="898.9" r="1.8"/><circle cx="1035.5" cy="905.4" r="1.8"/><circle cx="1040.3" cy="905.4" r="1.8"/><circle cx="1045.1" cy="905.4" r="1.8"/><circle cx="1049.9" cy="905.4" r="1.8"/><circle cx="1054.7" cy="905.4" r="1.8"/><circle cx="1033.1" cy="912.0" r="1.8"/><circle cx="1037.9" cy="912.0" r="1.8"/><circle cx="1042.7" cy="912.0" r="1.8"/><circle cx="1047.5" cy="912.0" r="1.8"/><circle cx="1052.3" cy="912.0" r="1.8"/><circle cx="1057.1" cy="912.0" r="1.8"/><circle cx="1011.5" cy="918.5" r="1.8"/><circle cx="1016.3" cy="918.5" r="1.8"/><circle cx="1021.1" cy="918.5" r="1.8"/><circle cx="1025.9" cy="918.5" r="1.8"/><circle cx="1030.7" cy="918.5" r="1.8"/><circle cx="1035.5" cy="918.5" r="1.8"/><circle cx="1040.3" cy="918.5" r="1.8"/><circle cx="1045.1" cy="918.5" r="1.8"/><circle cx="1049.9" cy="918.5" r="1.8"/><circle cx="1054.7" cy="918.5" r="1.8"/><circle cx="1059.5" cy="918.5" r="1.8"/><circle cx="1064.3" cy="918.5" r="1.8"/><circle cx="1069.1" cy="918.5" r="1.8"/><circle cx="1073.9" cy="918.5" r="1.8"/><circle cx="1078.7" cy="918.5" r="1.8"/><circle cx="1023.5" cy="925.1" r="1.8"/><circle cx="1028.3" cy="925.1" r="1.8"/><circle cx="1033.1" cy="925.1" r="1.8"/><circle cx="1037.9" cy="925.1" r="1.8"/><circle cx="1042.7" cy="925.1" r="1.8"/><circle cx="1047.5" cy="925.1" r="1.8"/><circle cx="1052.3" cy="925.1" r="1.8"/><circle cx="1057.1" cy="925.1" r="1.8"/><circle cx="1061.9" cy="925.1" r="1.8"/><circle cx="1066.7" cy="925.1" r="1.8"/><circle cx="1021.1" cy="931.6" r="1.8"/><circle cx="1025.9" cy="931.6" r="1.8"/><circle cx="1030.7" cy="931.6" r="1.8"/><circle cx="1035.5" cy="931.6" r="1.8"/><circle cx="1040.3" cy="931.6" r="1.8"/><circle cx="1045.1" cy="931.6" r="1.8"/><circle cx="1049.9" cy="931.6" r="1.8"/><circle cx="1054.7" cy="931.6" r="1.8"/><circle cx="1059.5" cy="931.6" r="1.8"/><circle cx="1064.3" cy="931.6" r="1.8"/><circle cx="1069.1" cy="931.6" r="1.8"/><circle cx="1021.1" cy="938.1" r="1.8"/><circle cx="1025.9" cy="938.1" r="1.8"/><circle cx="1030.7" cy="938.1" r="1.8"/><circle cx="1035.5" cy="938.1" r="1.8"/><circle cx="1040.3" cy="938.1" r="1.8"/><circle cx="1045.1" cy="938.1" r="1.8"/><circle cx="1049.9" cy="938.1" r="1.8"/><circle cx="1054.7" cy="938.1" r="1.8"/><circle cx="1059.5" cy="938.1" r="1.8"/><circle cx="1064.3" cy="938.1" r="1.8"/><circle cx="1069.1" cy="938.1" r="1.8"/><circle cx="1030.7" cy="944.7" r="1.8"/><circle cx="1035.5" cy="944.7" r="1.8"/><circle cx="1040.3" cy="944.7" r="1.8"/><circle cx="1045.1" cy="944.7" r="1.8"/><circle cx="1049.9" cy="944.7" r="1.8"/><circle cx="1054.7" cy="944.7" r="1.8"/><circle cx="1059.5" cy="944.7" r="1.8"/><circle cx="1009.1" cy="951.2" r="1.8"/><circle cx="1013.9" cy="951.2" r="1.8"/><circle cx="1018.7" cy="951.2" r="1.8"/><circle cx="1023.5" cy="951.2" r="1.8"/><circle cx="1028.3" cy="951.2" r="1.8"/><circle cx="1033.1" cy="951.2" r="1.8"/><circle cx="1037.9" cy="951.2" r="1.8"/><circle cx="1042.7" cy="951.2" r="1.8"/><circle cx="1047.5" cy="951.2" r="1.8"/><circle cx="1052.3" cy="951.2" r="1.8"/><circle cx="1057.1" cy="951.2" r="1.8"/><circle cx="1061.9" cy="951.2" r="1.8"/><circle cx="1066.7" cy="951.2" r="1.8"/><circle cx="1071.5" cy="951.2" r="1.8"/><circle cx="1076.3" cy="951.2" r="1.8"/><circle cx="1081.1" cy="951.2" r="1.8"/><circle cx="1011.5" cy="957.8" r="1.8"/><circle cx="1016.3" cy="957.8" r="1.8"/><circle cx="1021.1" cy="957.8" r="1.8"/><circle cx="1025.9" cy="957.8" r="1.8"/><circle cx="1030.7" cy="957.8" r="1.8"/><circle cx="1035.5" cy="957.8" r="1.8"/><circle cx="1040.3" cy="957.8" r="1.8"/><circle cx="1045.1" cy="957.8" r="1.8"/><circle cx="1049.9" cy="957.8" r="1.8"/><circle cx="1054.7" cy="957.8" r="1.8"/><circle cx="1059.5" cy="957.8" r="1.8"/><circle cx="1064.3" cy="957.8" r="1.8"/><circle cx="1069.1" cy="957.8" r="1.8"/><circle cx="1073.9" cy="957.8" r="1.8"/><circle cx="1078.7" cy="957.8" r="1.8"/><circle cx="1025.9" cy="964.3" r="1.8"/><circle cx="1030.7" cy="964.3" r="1.8"/><circle cx="1035.5" cy="964.3" r="1.8"/><circle cx="1040.3" cy="964.3" r="1.8"/><circle cx="1045.1" cy="964.3" r="1.8"/><circle cx="1049.9" cy="964.3" r="1.8"/><circle cx="1054.7" cy="964.3" r="1.8"/><circle cx="1059.5" cy="964.3" r="1.8"/><circle cx="1064.3" cy="964.3" r="1.8"/><circle cx="1021.1" cy="970.8" r="1.8"/><circle cx="1025.9" cy="970.8" r="1.8"/><circle cx="1030.7" cy="970.8" r="1.8"/><circle cx="1035.5" cy="970.8" r="1.8"/><circle cx="1040.3" cy="970.8" r="1.8"/><circle cx="1045.1" cy="970.8" r="1.8"/><circle cx="1049.9" cy="970.8" r="1.8"/><circle cx="1054.7" cy="970.8" r="1.8"/><circle cx="1059.5" cy="970.8" r="1.8"/><circle cx="1064.3" cy="970.8" r="1.8"/><circle cx="1069.1" cy="970.8" r="1.8"/><circle cx="1021.1" cy="977.4" r="1.8"/><circle cx="1025.9" cy="977.4" r="1.8"/><circle cx="1030.7" cy="977.4" r="1.8"/><circle cx="1035.5" cy="977.4" r="1.8"/><circle cx="1040.3" cy="977.4" r="1.8"/><circle cx="1045.1" cy="977.4" r="1.8"/><circle cx="1049.9" cy="977.4" r="1.8"/><circle cx="1054.7" cy="977.4" r="1.8"/><circle cx="1059.5" cy="977.4" r="1.8"/><circle cx="1064.3" cy="977.4" r="1.8"/><circle cx="1069.1" cy="977.4" r="1.8"/><circle cx="1013.9" cy="983.9" r="1.8"/><circle cx="1018.7" cy="983.9" r="1.8"/><circle cx="1023.5" cy="983.9" r="1.8"/><circle cx="1028.3" cy="983.9" r="1.8"/><circle cx="1033.1" cy="983.9" r="1.8"/><circle cx="1037.9" cy="983.9" r="1.8"/><circle cx="1042.7" cy="983.9" r="1.8"/><circle cx="1047.5" cy="983.9" r="1.8"/><circle cx="1052.3" cy="983.9" r="1.8"/><circle cx="1057.1" cy="983.9" r="1.8"/><circle cx="1061.9" cy="983.9" r="1.8"/><circle cx="1066.7" cy="983.9" r="1.8"/><circle cx="1071.5" cy="983.9" r="1.8"/><circle cx="1076.3" cy="983.9" r="1.8"/><circle cx="1016.3" cy="990.5" r="1.8"/><circle cx="1021.1" cy="990.5" r="1.8"/><circle cx="1025.9" cy="990.5" r="1.8"/><circle cx="1030.7" cy="990.5" r="1.8"/><circle cx="1035.5" cy="990.5" r="1.8"/><circle cx="1040.3" cy="990.5" r="1.8"/><circle cx="1045.1" cy="990.5" r="1.8"/><circle cx="1049.9" cy="990.5" r="1.8"/><circle cx="1054.7" cy="990.5" r="1.8"/><circle cx="1059.5" cy="990.5" r="1.8"/><circle cx="1064.3" cy="990.5" r="1.8"/><circle cx="1069.1" cy="990.5" r="1.8"/><circle cx="1073.9" cy="990.5" r="1.8"/></g>
<path d="M914.3 901.1H951.9M933.1 901.1V903.7" stroke="#8f959e" stroke-width="1.1" fill="none"/>
<path d="M1026.3 935.4H1063.9M1045.1 935.4V941.0" stroke="#aaa089" stroke-width="1.1" fill="none"/>
<path d="M858.2 604.6V997.0M842.9 997.0H1120.5" stroke="#3a3a3a" stroke-width="1.3" fill="none"/>
<path d="M842.9 997.0H858.2" stroke="#3a3a3a" stroke-width="1.3"/>
<text transform="translate(833.5 1007.5) scale(0.955 1)" font-size="31.4" text-anchor="end" >0</text>
<path d="M842.9 866.2H858.2" stroke="#3a3a3a" stroke-width="1.3"/>
<text transform="translate(833.5 876.7) scale(0.955 1)" font-size="31.4" text-anchor="end" >20</text>
<path d="M842.9 735.4H858.2" stroke="#3a3a3a" stroke-width="1.3"/>
<text transform="translate(833.5 745.9) scale(0.955 1)" font-size="31.4" text-anchor="end" >40</text>
<path d="M842.9 604.6H858.2" stroke="#3a3a3a" stroke-width="1.3"/>
<text transform="translate(833.5 615.1) scale(0.955 1)" font-size="31.4" text-anchor="end" >60</text>
<path d="M932.9 997.0V1012.0" stroke="#3a3a3a" stroke-width="1.3"/>
<path d="M1045.3 997.0V1012.0" stroke="#3a3a3a" stroke-width="1.3"/>
<path d="M935.7 629.3V613.9H1045.0V629.3" stroke="#3a3a3a" stroke-width="1.3" fill="none"/>
<text x="985.0" y="611.4" font-size="26" text-anchor="middle" >***</text>
<text transform="translate(927.6 1046.7) scale(0.955 1)" font-size="31.4" text-anchor="middle" >Control</text>
<text transform="translate(1047.2 1046.7) scale(0.955 1)" font-size="31.4" text-anchor="middle" >OMA</text>
<text x="0" y="0" font-size="31.4" text-anchor="middle" transform="translate(784.0 815.0) rotate(-90)" xml:space="preserve">Number of retrived oocytes</text>
<text x="700.0" y="595.0" font-size="49" text-anchor="start" >E</text>
<rect x="1525.5" y="941.1" width="68.6" height="55.2" fill="#a1bada" stroke="#5b7db2" stroke-width="1.1"/>
<rect x="1637.6" y="925.2" width="68.9" height="71.1" fill="#ddd6c3" stroke="#b4a786" stroke-width="1.1"/>
<g fill="#4a74ba" fill-opacity="0.88"><circle cx="1559.4" cy="984.8" r="2.0"/><circle cx="1559.3" cy="982.3" r="2.0"/><circle cx="1559.2" cy="980.6" r="2.0"/><circle cx="1559.1" cy="977.9" r="2.0"/><circle cx="1559.0" cy="975.3" r="2.0"/><circle cx="1558.9" cy="973.3" r="2.0"/><circle cx="1557.8" cy="971.8" r="2.0"/><circle cx="1560.5" cy="970.9" r="2.0"/><circle cx="1558.4" cy="969.7" r="2.0"/><circle cx="1562.3" cy="968.4" r="2.0"/><circle cx="1556.9" cy="966.3" r="2.0"/><circle cx="1562.3" cy="966.4" r="2.0"/><circle cx="1555.7" cy="965.4" r="2.0"/><circle cx="1559.3" cy="964.8" r="2.0"/><circle cx="1562.0" cy="964.7" r="2.0"/><circle cx="1563.8" cy="964.0" r="2.0"/><circle cx="1552.9" cy="962.9" r="2.0"/><circle cx="1556.6" cy="963.2" r="2.0"/><circle cx="1559.3" cy="962.9" r="2.0"/><circle cx="1562.0" cy="962.6" r="2.0"/><circle cx="1564.7" cy="961.9" r="2.0"/><circle cx="1566.4" cy="963.0" r="2.0"/><circle cx="1550.3" cy="960.9" r="2.0"/><circle cx="1552.2" cy="960.1" r="2.0"/><circle cx="1554.9" cy="960.1" r="2.0"/><circle cx="1560.3" cy="959.6" r="2.0"/><circle cx="1563.0" cy="960.6" r="2.0"/><circle cx="1569.2" cy="960.3" r="2.0"/><circle cx="1547.7" cy="957.7" r="2.0"/><circle cx="1550.6" cy="958.2" r="2.0"/><circle cx="1553.3" cy="957.6" r="2.0"/><circle cx="1556.0" cy="957.9" r="2.0"/><circle cx="1558.7" cy="957.9" r="2.0"/><circle cx="1561.4" cy="957.8" r="2.0"/><circle cx="1564.1" cy="957.4" r="2.0"/><circle cx="1566.8" cy="958.5" r="2.0"/><circle cx="1569.5" cy="958.4" r="2.0"/><circle cx="1572.0" cy="958.7" r="2.0"/><circle cx="1545.2" cy="956.7" r="2.0"/><circle cx="1551.8" cy="956.5" r="2.0"/><circle cx="1554.5" cy="955.7" r="2.0"/><circle cx="1557.2" cy="956.5" r="2.0"/><circle cx="1559.9" cy="955.2" r="2.0"/><circle cx="1562.6" cy="956.3" r="2.0"/><circle cx="1565.3" cy="956.4" r="2.0"/><circle cx="1568.0" cy="955.5" r="2.0"/><circle cx="1570.7" cy="955.8" r="2.0"/><circle cx="1572.2" cy="955.2" r="2.0"/><circle cx="1542.0" cy="954.5" r="2.0"/><circle cx="1544.2" cy="953.7" r="2.0"/><circle cx="1546.9" cy="954.4" r="2.0"/><circle cx="1549.6" cy="954.1" r="2.0"/><circle cx="1552.3" cy="953.3" r="2.0"/><circle cx="1555.0" cy="954.2" r="2.0"/><circle cx="1557.7" cy="953.9" r="2.0"/><circle cx="1560.4" cy="953.8" r="2.0"/><circle cx="1563.1" cy="953.4" r="2.0"/><circle cx="1565.8" cy="953.4" r="2.0"/><circle cx="1568.5" cy="953.0" r="2.0"/><circle cx="1571.2" cy="954.4" r="2.0"/><circle cx="1573.9" cy="953.9" r="2.0"/><circle cx="1577.1" cy="954.3" r="2.0"/><circle cx="1538.6" cy="951.4" r="2.0"/><circle cx="1544.3" cy="950.9" r="2.0"/><circle cx="1547.0" cy="950.9" r="2.0"/><circle cx="1549.7" cy="951.4" r="2.0"/><circle cx="1552.4" cy="952.1" r="2.0"/><circle cx="1555.1" cy="950.9" r="2.0"/><circle cx="1557.8" cy="951.2" r="2.0"/><circle cx="1560.5" cy="951.1" r="2.0"/><circle cx="1563.2" cy="951.0" r="2.0"/><circle cx="1565.9" cy="951.8" r="2.0"/><circle cx="1568.6" cy="950.8" r="2.0"/><circle cx="1571.3" cy="952.1" r="2.0"/><circle cx="1574.0" cy="952.0" r="2.0"/><circle cx="1576.7" cy="951.5" r="2.0"/><circle cx="1579.1" cy="951.9" r="2.0"/><circle cx="1535.7" cy="948.9" r="2.0"/><circle cx="1537.5" cy="949.0" r="2.0"/><circle cx="1540.2" cy="949.1" r="2.0"/><circle cx="1542.9" cy="949.9" r="2.0"/><circle cx="1545.6" cy="949.3" r="2.0"/><circle cx="1548.3" cy="950.0" r="2.0"/><circle cx="1551.0" cy="949.5" r="2.0"/><circle cx="1553.7" cy="949.7" r="2.0"/><circle cx="1559.1" cy="949.6" r="2.0"/><circle cx="1561.8" cy="949.4" r="2.0"/><circle cx="1564.5" cy="949.8" r="2.0"/><circle cx="1569.9" cy="949.0" r="2.0"/><circle cx="1575.3" cy="948.7" r="2.0"/><circle cx="1578.0" cy="949.8" r="2.0"/><circle cx="1581.6" cy="949.2" r="2.0"/><circle cx="1534.6" cy="947.3" r="2.0"/><circle cx="1537.6" cy="947.1" r="2.0"/><circle cx="1540.3" cy="947.0" r="2.0"/><circle cx="1543.0" cy="946.4" r="2.0"/><circle cx="1545.7" cy="946.7" r="2.0"/><circle cx="1548.4" cy="947.6" r="2.0"/><circle cx="1551.1" cy="947.0" r="2.0"/><circle cx="1553.8" cy="946.9" r="2.0"/><circle cx="1556.5" cy="947.3" r="2.0"/><circle cx="1561.9" cy="947.1" r="2.0"/><circle cx="1564.6" cy="947.4" r="2.0"/><circle cx="1567.3" cy="947.5" r="2.0"/><circle cx="1570.0" cy="947.5" r="2.0"/><circle cx="1572.7" cy="947.7" r="2.0"/><circle cx="1575.4" cy="947.4" r="2.0"/><circle cx="1578.1" cy="947.8" r="2.0"/><circle cx="1580.8" cy="947.3" r="2.0"/><circle cx="1583.2" cy="947.8" r="2.0"/><circle cx="1533.5" cy="944.6" r="2.0"/><circle cx="1537.6" cy="944.7" r="2.0"/><circle cx="1540.3" cy="945.0" r="2.0"/><circle cx="1543.0" cy="944.6" r="2.0"/><circle cx="1545.7" cy="945.3" r="2.0"/><circle cx="1548.4" cy="944.3" r="2.0"/><circle cx="1553.8" cy="944.5" r="2.0"/><circle cx="1556.5" cy="945.1" r="2.0"/><circle cx="1559.2" cy="944.5" r="2.0"/><circle cx="1564.6" cy="944.5" r="2.0"/><circle cx="1567.3" cy="944.4" r="2.0"/><circle cx="1570.0" cy="944.4" r="2.0"/><circle cx="1572.7" cy="944.6" r="2.0"/><circle cx="1575.4" cy="945.6" r="2.0"/><circle cx="1578.1" cy="944.8" r="2.0"/><circle cx="1580.8" cy="944.6" r="2.0"/><circle cx="1583.5" cy="944.7" r="2.0"/><circle cx="1584.8" cy="944.4" r="2.0"/><circle cx="1531.5" cy="943.2" r="2.0"/><circle cx="1535.4" cy="943.0" r="2.0"/><circle cx="1538.1" cy="942.7" r="2.0"/><circle cx="1540.8" cy="942.9" r="2.0"/><circle cx="1543.5" cy="942.3" r="2.0"/><circle cx="1546.2" cy="942.8" r="2.0"/><circle cx="1548.9" cy="942.4" r="2.0"/><circle cx="1551.6" cy="943.3" r="2.0"/><circle cx="1554.3" cy="942.1" r="2.0"/><circle cx="1557.0" cy="943.2" r="2.0"/><circle cx="1559.7" cy="942.0" r="2.0"/><circle cx="1562.4" cy="942.6" r="2.0"/><circle cx="1565.1" cy="942.3" r="2.0"/><circle cx="1567.8" cy="943.2" r="2.0"/><circle cx="1570.5" cy="943.3" r="2.0"/><circle cx="1573.2" cy="942.8" r="2.0"/><circle cx="1575.9" cy="943.3" r="2.0"/><circle cx="1578.6" cy="943.1" r="2.0"/><circle cx="1581.3" cy="942.0" r="2.0"/><circle cx="1584.0" cy="942.9" r="2.0"/><circle cx="1586.7" cy="942.7" r="2.0"/><circle cx="1588.2" cy="942.5" r="2.0"/><circle cx="1528.2" cy="940.2" r="2.0"/><circle cx="1530.2" cy="941.1" r="2.0"/><circle cx="1532.9" cy="939.8" r="2.0"/><circle cx="1535.6" cy="940.8" r="2.0"/><circle cx="1538.3" cy="940.2" r="2.0"/><circle cx="1541.0" cy="939.8" r="2.0"/><circle cx="1543.7" cy="940.8" r="2.0"/><circle cx="1546.4" cy="940.0" r="2.0"/><circle cx="1549.1" cy="941.2" r="2.0"/><circle cx="1551.8" cy="940.4" r="2.0"/><circle cx="1554.5" cy="940.9" r="2.0"/><circle cx="1557.2" cy="939.9" r="2.0"/><circle cx="1559.9" cy="940.1" r="2.0"/><circle cx="1562.6" cy="940.3" r="2.0"/><circle cx="1565.3" cy="940.7" r="2.0"/><circle cx="1568.0" cy="940.8" r="2.0"/><circle cx="1570.7" cy="940.0" r="2.0"/><circle cx="1573.4" cy="941.0" r="2.0"/><circle cx="1576.1" cy="940.8" r="2.0"/><circle cx="1578.8" cy="940.9" r="2.0"/><circle cx="1581.5" cy="940.6" r="2.0"/><circle cx="1584.2" cy="941.2" r="2.0"/><circle cx="1586.9" cy="941.2" r="2.0"/><circle cx="1590.3" cy="941.0" r="2.0"/><circle cx="1526.0" cy="938.5" r="2.0"/><circle cx="1527.4" cy="938.7" r="2.0"/><circle cx="1530.1" cy="937.8" r="2.0"/><circle cx="1532.8" cy="938.4" r="2.0"/><circle cx="1535.5" cy="937.9" r="2.0"/><circle cx="1540.9" cy="938.7" r="2.0"/><circle cx="1543.6" cy="938.9" r="2.0"/><circle cx="1546.3" cy="937.7" r="2.0"/><circle cx="1549.0" cy="937.8" r="2.0"/><circle cx="1551.7" cy="938.8" r="2.0"/><circle cx="1554.4" cy="937.7" r="2.0"/><circle cx="1557.1" cy="938.2" r="2.0"/><circle cx="1559.8" cy="937.6" r="2.0"/><circle cx="1562.5" cy="937.9" r="2.0"/><circle cx="1565.2" cy="939.0" r="2.0"/><circle cx="1567.9" cy="938.9" r="2.0"/><circle cx="1570.6" cy="937.7" r="2.0"/><circle cx="1573.3" cy="938.2" r="2.0"/><circle cx="1576.0" cy="938.7" r="2.0"/><circle cx="1578.7" cy="938.5" r="2.0"/><circle cx="1581.4" cy="938.2" r="2.0"/><circle cx="1584.1" cy="938.3" r="2.0"/><circle cx="1586.8" cy="938.4" r="2.0"/><circle cx="1589.5" cy="937.6" r="2.0"/><circle cx="1593.5" cy="938.4" r="2.0"/><circle cx="1529.3" cy="936.5" r="2.0"/><circle cx="1535.5" cy="935.9" r="2.0"/><circle cx="1538.2" cy="936.4" r="2.0"/><circle cx="1540.9" cy="936.2" r="2.0"/><circle cx="1546.3" cy="935.7" r="2.0"/><circle cx="1549.0" cy="936.6" r="2.0"/><circle cx="1551.7" cy="935.4" r="2.0"/><circle cx="1554.4" cy="936.6" r="2.0"/><circle cx="1557.1" cy="936.1" r="2.0"/><circle cx="1559.8" cy="936.3" r="2.0"/><circle cx="1562.5" cy="936.4" r="2.0"/><circle cx="1565.2" cy="936.5" r="2.0"/><circle cx="1567.9" cy="935.7" r="2.0"/><circle cx="1570.6" cy="936.6" r="2.0"/><circle cx="1573.3" cy="935.6" r="2.0"/><circle cx="1576.0" cy="936.7" r="2.0"/><circle cx="1578.7" cy="935.8" r="2.0"/><circle cx="1581.4" cy="935.6" r="2.0"/><circle cx="1584.1" cy="935.7" r="2.0"/><circle cx="1586.8" cy="935.8" r="2.0"/><circle cx="1588.7" cy="935.7" r="2.0"/><circle cx="1532.6" cy="933.5" r="2.0"/><circle cx="1535.3" cy="933.7" r="2.0"/><circle cx="1538.0" cy="933.7" r="2.0"/><circle cx="1540.7" cy="933.4" r="2.0"/><circle cx="1543.4" cy="934.2" r="2.0"/><circle cx="1546.1" cy="933.3" r="2.0"/><circle cx="1548.8" cy="934.1" r="2.0"/><circle cx="1551.5" cy="934.3" r="2.0"/><circle cx="1554.2" cy="933.8" r="2.0"/><circle cx="1556.9" cy="934.6" r="2.0"/><circle cx="1559.6" cy="934.1" r="2.0"/><circle cx="1562.3" cy="933.7" r="2.0"/><circle cx="1565.0" cy="934.3" r="2.0"/><circle cx="1567.7" cy="933.8" r="2.0"/><circle cx="1570.4" cy="933.5" r="2.0"/><circle cx="1573.1" cy="933.2" r="2.0"/><circle cx="1575.8" cy="933.8" r="2.0"/><circle cx="1578.5" cy="934.0" r="2.0"/><circle cx="1581.2" cy="933.3" r="2.0"/><circle cx="1583.9" cy="933.4" r="2.0"/><circle cx="1586.6" cy="933.6" r="2.0"/><circle cx="1532.9" cy="931.0" r="2.0"/><circle cx="1535.1" cy="931.2" r="2.0"/><circle cx="1537.8" cy="932.2" r="2.0"/><circle cx="1540.5" cy="931.1" r="2.0"/><circle cx="1543.2" cy="931.1" r="2.0"/><circle cx="1545.9" cy="932.1" r="2.0"/><circle cx="1548.6" cy="932.0" r="2.0"/><circle cx="1551.3" cy="931.1" r="2.0"/><circle cx="1554.0" cy="931.9" r="2.0"/><circle cx="1556.7" cy="931.3" r="2.0"/><circle cx="1559.4" cy="932.2" r="2.0"/><circle cx="1562.1" cy="932.0" r="2.0"/><circle cx="1564.8" cy="931.4" r="2.0"/><circle cx="1567.5" cy="932.3" r="2.0"/><circle cx="1570.2" cy="932.1" r="2.0"/><circle cx="1572.9" cy="931.7" r="2.0"/><circle cx="1575.6" cy="932.1" r="2.0"/><circle cx="1578.3" cy="931.2" r="2.0"/><circle cx="1581.0" cy="931.1" r="2.0"/><circle cx="1586.9" cy="932.0" r="2.0"/><circle cx="1534.9" cy="929.3" r="2.0"/><circle cx="1537.7" cy="929.8" r="2.0"/><circle cx="1540.4" cy="930.0" r="2.0"/><circle cx="1543.1" cy="929.2" r="2.0"/><circle cx="1545.8" cy="929.2" r="2.0"/><circle cx="1548.5" cy="929.9" r="2.0"/><circle cx="1551.2" cy="929.2" r="2.0"/><circle cx="1553.9" cy="929.8" r="2.0"/><circle cx="1556.6" cy="929.1" r="2.0"/><circle cx="1559.3" cy="930.1" r="2.0"/><circle cx="1562.0" cy="929.8" r="2.0"/><circle cx="1564.7" cy="929.5" r="2.0"/><circle cx="1567.4" cy="929.3" r="2.0"/><circle cx="1570.1" cy="929.5" r="2.0"/><circle cx="1572.8" cy="929.2" r="2.0"/><circle cx="1575.5" cy="930.1" r="2.0"/><circle cx="1578.2" cy="929.0" r="2.0"/><circle cx="1580.9" cy="929.1" r="2.0"/><circle cx="1583.5" cy="929.3" r="2.0"/><circle cx="1545.9" cy="927.5" r="2.0"/><circle cx="1549.1" cy="927.7" r="2.0"/><circle cx="1551.8" cy="927.1" r="2.0"/><circle cx="1554.5" cy="927.5" r="2.0"/><circle cx="1557.2" cy="927.6" r="2.0"/><circle cx="1559.9" cy="927.0" r="2.0"/><circle cx="1562.6" cy="927.8" r="2.0"/><circle cx="1565.3" cy="927.6" r="2.0"/><circle cx="1568.0" cy="927.6" r="2.0"/><circle cx="1572.9" cy="926.9" r="2.0"/><circle cx="1545.9" cy="924.9" r="2.0"/><circle cx="1552.6" cy="924.9" r="2.0"/><circle cx="1555.3" cy="924.8" r="2.0"/><circle cx="1558.0" cy="925.6" r="2.0"/><circle cx="1560.7" cy="925.5" r="2.0"/><circle cx="1563.4" cy="925.7" r="2.0"/><circle cx="1566.1" cy="925.6" r="2.0"/><circle cx="1571.5" cy="925.4" r="2.0"/><circle cx="1572.9" cy="925.8" r="2.0"/><circle cx="1545.9" cy="923.2" r="2.0"/><circle cx="1549.0" cy="922.3" r="2.0"/><circle cx="1551.7" cy="922.4" r="2.0"/><circle cx="1554.4" cy="922.3" r="2.0"/><circle cx="1557.1" cy="923.3" r="2.0"/><circle cx="1559.8" cy="923.1" r="2.0"/><circle cx="1562.5" cy="922.9" r="2.0"/><circle cx="1565.2" cy="922.8" r="2.0"/><circle cx="1567.9" cy="922.8" r="2.0"/><circle cx="1570.6" cy="923.3" r="2.0"/><circle cx="1572.9" cy="922.7" r="2.0"/><circle cx="1550.9" cy="921.4" r="2.0"/><circle cx="1554.1" cy="920.9" r="2.0"/><circle cx="1556.8" cy="921.0" r="2.0"/><circle cx="1559.5" cy="920.1" r="2.0"/><circle cx="1562.2" cy="921.4" r="2.0"/><circle cx="1564.9" cy="920.9" r="2.0"/><circle cx="1567.1" cy="920.4" r="2.0"/><circle cx="1552.4" cy="918.3" r="2.0"/><circle cx="1555.9" cy="918.3" r="2.0"/><circle cx="1558.6" cy="917.8" r="2.0"/><circle cx="1561.3" cy="918.0" r="2.0"/><circle cx="1564.0" cy="918.6" r="2.0"/><circle cx="1565.9" cy="919.0" r="2.0"/><circle cx="1552.4" cy="916.7" r="2.0"/><circle cx="1555.4" cy="917.0" r="2.0"/><circle cx="1558.1" cy="915.9" r="2.0"/><circle cx="1560.8" cy="916.2" r="2.0"/><circle cx="1563.5" cy="916.9" r="2.0"/><circle cx="1565.9" cy="916.7" r="2.0"/><circle cx="1552.4" cy="913.8" r="2.0"/><circle cx="1554.4" cy="914.7" r="2.0"/><circle cx="1559.8" cy="914.8" r="2.0"/><circle cx="1562.5" cy="914.0" r="2.0"/><circle cx="1565.9" cy="914.5" r="2.0"/><circle cx="1553.9" cy="912.7" r="2.0"/><circle cx="1555.7" cy="912.5" r="2.0"/><circle cx="1558.4" cy="912.2" r="2.0"/><circle cx="1561.1" cy="912.5" r="2.0"/><circle cx="1564.7" cy="912.0" r="2.0"/><circle cx="1555.6" cy="910.1" r="2.0"/><circle cx="1557.3" cy="909.4" r="2.0"/><circle cx="1560.0" cy="909.9" r="2.0"/><circle cx="1563.7" cy="909.0" r="2.0"/><circle cx="1557.4" cy="907.4" r="2.0"/><circle cx="1560.1" cy="907.3" r="2.0"/><circle cx="1557.4" cy="905.2" r="2.0"/><circle cx="1560.1" cy="904.8" r="2.0"/><circle cx="1557.4" cy="902.7" r="2.0"/><circle cx="1560.1" cy="903.7" r="2.0"/><circle cx="1557.4" cy="900.6" r="2.0"/><circle cx="1560.1" cy="900.7" r="2.0"/><circle cx="1557.9" cy="898.8" r="2.0"/><circle cx="1560.6" cy="898.1" r="2.0"/><circle cx="1559.0" cy="896.1" r="2.0"/><circle cx="1559.4" cy="894.0" r="2.0"/><circle cx="1559.4" cy="892.4" r="2.0"/><circle cx="1559.4" cy="890.3" r="2.0"/><circle cx="1559.9" cy="821.0" r="2.0"/><circle cx="1559.9" cy="840.7" r="2.0"/><circle cx="1559.9" cy="873.7" r="2.0"/><circle cx="1558.9" cy="878.8" r="2.0"/><circle cx="1560.9" cy="877.6" r="2.0"/></g><g fill="#d2c5a2" fill-opacity="0.8" stroke="#c3b48e" stroke-width="0.6"><circle cx="1666.0" cy="976.4" r="1.9"/><circle cx="1675.6" cy="976.6" r="1.9"/><circle cx="1677.7" cy="977.1" r="1.9"/><circle cx="1669.0" cy="975.4" r="1.9"/><circle cx="1672.9" cy="974.6" r="1.9"/><circle cx="1667.3" cy="972.3" r="1.9"/><circle cx="1672.9" cy="970.5" r="1.9"/><circle cx="1664.0" cy="967.8" r="1.9"/><circle cx="1672.1" cy="969.4" r="1.9"/><circle cx="1676.0" cy="969.4" r="1.9"/><circle cx="1679.6" cy="968.9" r="1.9"/><circle cx="1663.5" cy="966.4" r="1.9"/><circle cx="1667.9" cy="966.0" r="1.9"/><circle cx="1675.7" cy="964.7" r="1.9"/><circle cx="1659.5" cy="961.5" r="1.9"/><circle cx="1664.1" cy="961.5" r="1.9"/><circle cx="1671.9" cy="962.5" r="1.9"/><circle cx="1675.8" cy="962.8" r="1.9"/><circle cx="1682.9" cy="962.2" r="1.9"/><circle cx="1659.5" cy="959.6" r="1.9"/><circle cx="1663.7" cy="959.3" r="1.9"/><circle cx="1667.6" cy="959.5" r="1.9"/><circle cx="1671.5" cy="960.5" r="1.9"/><circle cx="1675.4" cy="959.3" r="1.9"/><circle cx="1679.3" cy="960.3" r="1.9"/><circle cx="1655.4" cy="955.6" r="1.9"/><circle cx="1663.2" cy="956.5" r="1.9"/><circle cx="1667.1" cy="956.1" r="1.9"/><circle cx="1671.0" cy="955.8" r="1.9"/><circle cx="1674.9" cy="956.5" r="1.9"/><circle cx="1678.8" cy="956.7" r="1.9"/><circle cx="1682.7" cy="956.8" r="1.9"/><circle cx="1686.6" cy="956.2" r="1.9"/><circle cx="1652.7" cy="954.2" r="1.9"/><circle cx="1656.6" cy="953.5" r="1.9"/><circle cx="1660.5" cy="954.5" r="1.9"/><circle cx="1664.4" cy="953.4" r="1.9"/><circle cx="1668.3" cy="953.7" r="1.9"/><circle cx="1672.2" cy="954.0" r="1.9"/><circle cx="1680.0" cy="954.4" r="1.9"/><circle cx="1683.9" cy="953.4" r="1.9"/><circle cx="1687.8" cy="953.1" r="1.9"/><circle cx="1691.7" cy="953.8" r="1.9"/><circle cx="1694.3" cy="953.0" r="1.9"/><circle cx="1649.6" cy="949.6" r="1.9"/><circle cx="1653.5" cy="949.9" r="1.9"/><circle cx="1661.3" cy="950.0" r="1.9"/><circle cx="1665.2" cy="950.4" r="1.9"/><circle cx="1669.1" cy="950.1" r="1.9"/><circle cx="1673.0" cy="951.3" r="1.9"/><circle cx="1680.8" cy="950.2" r="1.9"/><circle cx="1688.6" cy="949.8" r="1.9"/><circle cx="1694.3" cy="950.2" r="1.9"/><circle cx="1642.0" cy="947.4" r="1.9"/><circle cx="1646.9" cy="946.9" r="1.9"/><circle cx="1650.8" cy="946.5" r="1.9"/><circle cx="1654.7" cy="946.7" r="1.9"/><circle cx="1662.5" cy="946.5" r="1.9"/><circle cx="1666.4" cy="947.7" r="1.9"/><circle cx="1670.3" cy="947.4" r="1.9"/><circle cx="1674.2" cy="948.0" r="1.9"/><circle cx="1678.1" cy="947.7" r="1.9"/><circle cx="1689.8" cy="947.5" r="1.9"/><circle cx="1693.7" cy="947.1" r="1.9"/><circle cx="1642.0" cy="944.7" r="1.9"/><circle cx="1644.0" cy="945.1" r="1.9"/><circle cx="1651.8" cy="944.1" r="1.9"/><circle cx="1659.6" cy="943.8" r="1.9"/><circle cx="1663.5" cy="943.7" r="1.9"/><circle cx="1671.3" cy="944.8" r="1.9"/><circle cx="1683.0" cy="944.2" r="1.9"/><circle cx="1690.8" cy="944.2" r="1.9"/><circle cx="1694.7" cy="943.8" r="1.9"/><circle cx="1700.5" cy="943.5" r="1.9"/><circle cx="1641.7" cy="941.5" r="1.9"/><circle cx="1649.1" cy="941.6" r="1.9"/><circle cx="1656.9" cy="941.5" r="1.9"/><circle cx="1660.8" cy="940.4" r="1.9"/><circle cx="1668.6" cy="942.1" r="1.9"/><circle cx="1676.4" cy="940.5" r="1.9"/><circle cx="1680.3" cy="941.4" r="1.9"/><circle cx="1692.0" cy="941.7" r="1.9"/><circle cx="1695.9" cy="941.1" r="1.9"/><circle cx="1638.3" cy="939.3" r="1.9"/><circle cx="1647.8" cy="938.1" r="1.9"/><circle cx="1651.7" cy="937.9" r="1.9"/><circle cx="1655.6" cy="939.3" r="1.9"/><circle cx="1659.5" cy="937.4" r="1.9"/><circle cx="1663.4" cy="937.6" r="1.9"/><circle cx="1667.3" cy="938.1" r="1.9"/><circle cx="1671.2" cy="938.4" r="1.9"/><circle cx="1675.1" cy="938.1" r="1.9"/><circle cx="1682.9" cy="938.5" r="1.9"/><circle cx="1694.6" cy="937.5" r="1.9"/><circle cx="1702.4" cy="937.8" r="1.9"/><circle cx="1704.6" cy="937.9" r="1.9"/><circle cx="1637.5" cy="934.5" r="1.9"/><circle cx="1648.5" cy="935.4" r="1.9"/><circle cx="1656.3" cy="934.5" r="1.9"/><circle cx="1660.2" cy="935.2" r="1.9"/><circle cx="1668.0" cy="935.3" r="1.9"/><circle cx="1671.9" cy="934.5" r="1.9"/><circle cx="1675.8" cy="936.1" r="1.9"/><circle cx="1679.7" cy="935.1" r="1.9"/><circle cx="1683.6" cy="934.4" r="1.9"/><circle cx="1687.5" cy="934.7" r="1.9"/><circle cx="1691.4" cy="936.0" r="1.9"/><circle cx="1695.3" cy="935.4" r="1.9"/><circle cx="1699.2" cy="935.7" r="1.9"/><circle cx="1703.8" cy="936.3" r="1.9"/><circle cx="1637.5" cy="931.9" r="1.9"/><circle cx="1641.7" cy="933.3" r="1.9"/><circle cx="1645.6" cy="932.2" r="1.9"/><circle cx="1649.5" cy="931.8" r="1.9"/><circle cx="1653.4" cy="933.3" r="1.9"/><circle cx="1657.3" cy="933.1" r="1.9"/><circle cx="1661.2" cy="933.2" r="1.9"/><circle cx="1665.1" cy="931.9" r="1.9"/><circle cx="1669.0" cy="932.8" r="1.9"/><circle cx="1672.9" cy="932.7" r="1.9"/><circle cx="1676.8" cy="932.5" r="1.9"/><circle cx="1680.7" cy="933.1" r="1.9"/><circle cx="1684.6" cy="933.4" r="1.9"/><circle cx="1688.5" cy="931.9" r="1.9"/><circle cx="1692.4" cy="931.7" r="1.9"/><circle cx="1696.3" cy="931.5" r="1.9"/><circle cx="1700.2" cy="932.0" r="1.9"/><circle cx="1703.8" cy="931.7" r="1.9"/><circle cx="1637.5" cy="928.9" r="1.9"/><circle cx="1642.1" cy="929.2" r="1.9"/><circle cx="1646.0" cy="928.9" r="1.9"/><circle cx="1649.9" cy="929.3" r="1.9"/><circle cx="1657.7" cy="930.4" r="1.9"/><circle cx="1661.6" cy="928.7" r="1.9"/><circle cx="1665.5" cy="929.2" r="1.9"/><circle cx="1669.4" cy="928.8" r="1.9"/><circle cx="1673.3" cy="929.4" r="1.9"/><circle cx="1677.2" cy="929.3" r="1.9"/><circle cx="1681.1" cy="929.9" r="1.9"/><circle cx="1685.0" cy="928.9" r="1.9"/><circle cx="1688.9" cy="930.2" r="1.9"/><circle cx="1692.8" cy="928.6" r="1.9"/><circle cx="1696.7" cy="930.1" r="1.9"/><circle cx="1700.6" cy="930.3" r="1.9"/><circle cx="1703.8" cy="929.1" r="1.9"/><circle cx="1644.7" cy="925.9" r="1.9"/><circle cx="1652.3" cy="925.5" r="1.9"/><circle cx="1656.2" cy="926.6" r="1.9"/><circle cx="1660.1" cy="927.3" r="1.9"/><circle cx="1667.9" cy="927.3" r="1.9"/><circle cx="1671.8" cy="926.5" r="1.9"/><circle cx="1675.7" cy="927.4" r="1.9"/><circle cx="1683.5" cy="926.2" r="1.9"/><circle cx="1687.4" cy="926.7" r="1.9"/><circle cx="1695.2" cy="926.0" r="1.9"/><circle cx="1699.3" cy="927.1" r="1.9"/><circle cx="1649.0" cy="923.7" r="1.9"/><circle cx="1651.6" cy="924.1" r="1.9"/><circle cx="1655.5" cy="924.1" r="1.9"/><circle cx="1659.4" cy="922.7" r="1.9"/><circle cx="1663.3" cy="922.6" r="1.9"/><circle cx="1667.2" cy="924.0" r="1.9"/><circle cx="1671.1" cy="923.7" r="1.9"/><circle cx="1675.0" cy="923.8" r="1.9"/><circle cx="1678.9" cy="923.2" r="1.9"/><circle cx="1682.8" cy="923.4" r="1.9"/><circle cx="1686.7" cy="922.8" r="1.9"/><circle cx="1691.9" cy="922.5" r="1.9"/><circle cx="1649.0" cy="921.3" r="1.9"/><circle cx="1654.5" cy="919.4" r="1.9"/><circle cx="1666.2" cy="921.2" r="1.9"/><circle cx="1670.1" cy="919.4" r="1.9"/><circle cx="1674.0" cy="920.0" r="1.9"/><circle cx="1685.7" cy="920.1" r="1.9"/><circle cx="1689.6" cy="919.9" r="1.9"/><circle cx="1691.9" cy="920.3" r="1.9"/><circle cx="1649.3" cy="916.9" r="1.9"/><circle cx="1655.7" cy="917.3" r="1.9"/><circle cx="1659.6" cy="917.1" r="1.9"/><circle cx="1663.5" cy="916.6" r="1.9"/><circle cx="1667.4" cy="916.9" r="1.9"/><circle cx="1671.3" cy="917.1" r="1.9"/><circle cx="1675.2" cy="917.0" r="1.9"/><circle cx="1679.1" cy="917.0" r="1.9"/><circle cx="1683.0" cy="918.3" r="1.9"/><circle cx="1686.9" cy="916.8" r="1.9"/><circle cx="1692.2" cy="916.9" r="1.9"/><circle cx="1658.6" cy="913.5" r="1.9"/><circle cx="1662.5" cy="914.6" r="1.9"/><circle cx="1666.4" cy="914.3" r="1.9"/><circle cx="1670.3" cy="913.4" r="1.9"/><circle cx="1674.2" cy="914.8" r="1.9"/><circle cx="1678.1" cy="914.4" r="1.9"/><circle cx="1682.0" cy="914.5" r="1.9"/><circle cx="1685.9" cy="914.5" r="1.9"/><circle cx="1688.0" cy="914.1" r="1.9"/><circle cx="1656.2" cy="910.5" r="1.9"/><circle cx="1658.3" cy="910.9" r="1.9"/><circle cx="1662.2" cy="911.4" r="1.9"/><circle cx="1666.1" cy="910.7" r="1.9"/><circle cx="1670.0" cy="911.8" r="1.9"/><circle cx="1673.9" cy="911.5" r="1.9"/><circle cx="1677.8" cy="910.4" r="1.9"/><circle cx="1681.7" cy="912.1" r="1.9"/><circle cx="1687.4" cy="910.6" r="1.9"/><circle cx="1661.6" cy="907.6" r="1.9"/><circle cx="1665.5" cy="909.2" r="1.9"/><circle cx="1669.4" cy="907.9" r="1.9"/><circle cx="1673.3" cy="907.6" r="1.9"/><circle cx="1677.2" cy="908.6" r="1.9"/><circle cx="1672.1" cy="648.1" r="1.9"/><circle cx="1672.1" cy="695.3" r="1.9"/><circle cx="1666.7" cy="704.7" r="1.9"/><circle cx="1670.3" cy="704.7" r="1.9"/><circle cx="1673.9" cy="704.7" r="1.9"/><circle cx="1677.5" cy="704.7" r="1.9"/><circle cx="1667.7" cy="810.8" r="1.9"/><circle cx="1672.1" cy="810.8" r="1.9"/><circle cx="1678.7" cy="810.8" r="1.9"/><circle cx="1672.1" cy="813.2" r="1.9"/><circle cx="1672.1" cy="827.3" r="1.9"/><circle cx="1672.1" cy="854.0" r="1.9"/><circle cx="1667.7" cy="858.0" r="1.9"/><circle cx="1672.1" cy="858.0" r="1.9"/><circle cx="1678.7" cy="858.0" r="1.9"/><circle cx="1672.1" cy="864.3" r="1.9"/><circle cx="1672.1" cy="869.0" r="1.9"/><circle cx="1668.1" cy="880.8" r="1.9"/><circle cx="1672.1" cy="882.3" r="1.9"/><circle cx="1675.7" cy="880.8" r="1.9"/><circle cx="1672.1" cy="888.2" r="1.9"/><circle cx="1672.1" cy="899.6" r="1.9"/><circle cx="1662.1" cy="903.6" r="1.9"/></g>
<path d="M1653.4 918.2H1691.0M1672.2 918.2V925.2" stroke="#aaa089" stroke-width="1.1" fill="none"/>
<path d="M1485.3 603.3V996.3M1470.4 996.3H1746.8" stroke="#3a3a3a" stroke-width="1.3" fill="none"/>
<path d="M1470.4 996.3H1485.3" stroke="#3a3a3a" stroke-width="1.3"/>
<text transform="translate(1461.5 1006.8) scale(0.955 1)" font-size="31.4" text-anchor="end" >0</text>
<path d="M1470.4 917.7H1485.3" stroke="#3a3a3a" stroke-width="1.3"/>
<text transform="translate(1461.5 928.2) scale(0.955 1)" font-size="31.4" text-anchor="end" >10</text>
<path d="M1470.4 839.1H1485.3" stroke="#3a3a3a" stroke-width="1.3"/>
<text transform="translate(1461.5 849.6) scale(0.955 1)" font-size="31.4" text-anchor="end" >20</text>
<path d="M1470.4 760.5H1485.3" stroke="#3a3a3a" stroke-width="1.3"/>
<text transform="translate(1461.5 771.0) scale(0.955 1)" font-size="31.4" text-anchor="end" >30</text>
<path d="M1470.4 681.9H1485.3" stroke="#3a3a3a" stroke-width="1.3"/>
<text transform="translate(1461.5 692.4) scale(0.955 1)" font-size="31.4" text-anchor="end" >40</text>
<path d="M1470.4 603.3H1485.3" stroke="#3a3a3a" stroke-width="1.3"/>
<text transform="translate(1461.5 613.8) scale(0.955 1)" font-size="31.4" text-anchor="end" >50</text>
<path d="M1559.7 996.3V1011.3" stroke="#3a3a3a" stroke-width="1.3"/>
<path d="M1671.8 996.3V1011.3" stroke="#3a3a3a" stroke-width="1.3"/>
<path d="M1559.7 633.0V618.0H1669.3V633.0" stroke="#3a3a3a" stroke-width="1.3" fill="none"/>
<text x="1612.7" y="618.3" font-size="26" text-anchor="middle" >***</text>
<text transform="translate(1554.6 1045.5) scale(0.955 1)" font-size="31.4" text-anchor="middle" >Control</text>
<text transform="translate(1674.0 1045.5) scale(0.955 1)" font-size="31.4" text-anchor="middle" >OMA</text>
<text x="0" y="0" font-size="31.4" text-anchor="middle" transform="translate(1410.5 802.6) rotate(-90)" xml:space="preserve">Basal  FSH (IU/L)</text>
<text x="1319.0" y="594.0" font-size="49" text-anchor="start" >F</text>
</svg>
</body></html>
